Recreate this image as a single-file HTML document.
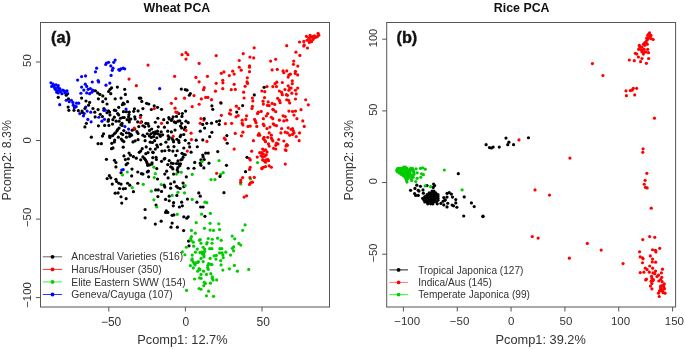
<!DOCTYPE html>
<html><head><meta charset="utf-8"><style>
html,body{margin:0;padding:0;background:#fff;width:685px;height:349px;overflow:hidden}
svg{display:block;will-change:transform;font-family:"Liberation Sans",sans-serif}
</style></head><body>
<svg width="685" height="349" viewBox="0 0 685 349">
<rect x="40.5" y="22.5" width="289.0" height="284.5" fill="none" stroke="#555" stroke-width="1"/>
<rect x="386.7" y="22.5" width="288.9" height="284.5" fill="none" stroke="#555" stroke-width="1"/>
<line x1="108.8" y1="307" x2="108.8" y2="311.5" stroke="#555" stroke-width="1"/>
<text x="111.1" y="325.6" font-size="12" text-anchor="middle" font-weight="normal" fill="#333">−50</text>
<line x1="185.4" y1="307" x2="185.4" y2="311.5" stroke="#555" stroke-width="1"/>
<text x="185.9" y="325.6" font-size="12" text-anchor="middle" font-weight="normal" fill="#333">0</text>
<line x1="262.0" y1="307" x2="262.0" y2="311.5" stroke="#555" stroke-width="1"/>
<text x="263.3" y="325.6" font-size="12" text-anchor="middle" font-weight="normal" fill="#333">50</text>
<line x1="36.0" y1="62.0" x2="40.5" y2="62.0" stroke="#555" stroke-width="1"/>
<text x="30.9" y="60.6" font-size="11.4" text-anchor="middle" font-weight="normal" fill="#333" transform="rotate(-90 30.9 60.6)">50</text>
<line x1="36.0" y1="140.5" x2="40.5" y2="140.5" stroke="#555" stroke-width="1"/>
<text x="30.9" y="140.4" font-size="11.4" text-anchor="middle" font-weight="normal" fill="#333" transform="rotate(-90 30.9 140.4)">0</text>
<line x1="36.0" y1="219.1" x2="40.5" y2="219.1" stroke="#555" stroke-width="1"/>
<text x="30.9" y="217.4" font-size="11.4" text-anchor="middle" font-weight="normal" fill="#333" transform="rotate(-90 30.9 217.4)">−50</text>
<line x1="36.0" y1="297.6" x2="40.5" y2="297.6" stroke="#555" stroke-width="1"/>
<text x="30.9" y="295.0" font-size="11.4" text-anchor="middle" font-weight="normal" fill="#333" transform="rotate(-90 30.9 295.0)">−100</text>
<line x1="403.4" y1="307" x2="403.4" y2="311.5" stroke="#555" stroke-width="1"/>
<text x="407.2" y="325.4" font-size="11.5" text-anchor="middle" font-weight="normal" fill="#333">−100</text>
<line x1="457.24" y1="307" x2="457.24" y2="311.5" stroke="#555" stroke-width="1"/>
<text x="459.54" y="325.4" font-size="11.5" text-anchor="middle" font-weight="normal" fill="#333">−50</text>
<line x1="511.08" y1="307" x2="511.08" y2="311.5" stroke="#555" stroke-width="1"/>
<text x="511.08" y="325.4" font-size="11.5" text-anchor="middle" font-weight="normal" fill="#333">0</text>
<line x1="564.92" y1="307" x2="564.92" y2="311.5" stroke="#555" stroke-width="1"/>
<text x="565.92" y="325.4" font-size="11.5" text-anchor="middle" font-weight="normal" fill="#333">50</text>
<line x1="618.76" y1="307" x2="618.76" y2="311.5" stroke="#555" stroke-width="1"/>
<text x="620.56" y="325.4" font-size="11.5" text-anchor="middle" font-weight="normal" fill="#333">100</text>
<line x1="672.6" y1="307" x2="672.6" y2="311.5" stroke="#555" stroke-width="1"/>
<text x="674.4" y="325.4" font-size="11.5" text-anchor="middle" font-weight="normal" fill="#333">150</text>
<line x1="382.2" y1="39.2" x2="386.7" y2="39.2" stroke="#555" stroke-width="1"/>
<text x="376.9" y="38.0" font-size="11.0" text-anchor="middle" font-weight="normal" fill="#333" transform="rotate(-90 376.9 38.0)">100</text>
<line x1="382.2" y1="110.9" x2="386.7" y2="110.9" stroke="#555" stroke-width="1"/>
<text x="376.9" y="109.7" font-size="11.0" text-anchor="middle" font-weight="normal" fill="#333" transform="rotate(-90 376.9 109.7)">50</text>
<line x1="382.2" y1="182.5" x2="386.7" y2="182.5" stroke="#555" stroke-width="1"/>
<text x="376.9" y="181.3" font-size="11.0" text-anchor="middle" font-weight="normal" fill="#333" transform="rotate(-90 376.9 181.3)">0</text>
<line x1="382.2" y1="254.2" x2="386.7" y2="254.2" stroke="#555" stroke-width="1"/>
<text x="376.9" y="253.0" font-size="11.0" text-anchor="middle" font-weight="normal" fill="#333" transform="rotate(-90 376.9 253.0)">−50</text>
<text x="176.9" y="12.3" font-size="12.4" text-anchor="middle" font-weight="bold" fill="#111">Wheat PCA</text>
<text x="521.7" y="12.3" font-size="12.4" text-anchor="middle" font-weight="bold" fill="#111">Rice PCA</text>
<text x="51.0" y="42.6" font-size="16.3" text-anchor="start" font-weight="bold" fill="#111" stroke="#111" stroke-width="0.4">(a)</text>
<text x="396.5" y="42.6" font-size="16.3" text-anchor="start" font-weight="bold" fill="#111" stroke="#111" stroke-width="0.4">(b)</text>
<text x="182.4" y="344.3" font-size="12.8" text-anchor="middle" font-weight="normal" fill="#333">Pcomp1: 12.7%</text>
<text x="540.7" y="344.3" font-size="12.8" text-anchor="middle" font-weight="normal" fill="#333">Pcomp1: 39.2%</text>
<text x="11.3" y="160.3" font-size="12.4" text-anchor="middle" font-weight="normal" fill="#333" transform="rotate(-90 11.3 160.3)">Pcomp2: 8.3%</text>
<text x="353.5" y="160.3" font-size="12.4" text-anchor="middle" font-weight="normal" fill="#333" transform="rotate(-90 353.5 160.3)">Pcomp2: 8.3%</text>
<circle cx="106.42" cy="63.03" r="1.6" fill="#00f"/>
<circle cx="108.61" cy="62.3" r="1.6" fill="#00f"/>
<circle cx="105.69" cy="64.49" r="1.6" fill="#00f"/>
<circle cx="115.18" cy="60.11" r="1.6" fill="#00f"/>
<circle cx="113.72" cy="62.3" r="1.6" fill="#00f"/>
<circle cx="110.8" cy="65.95" r="1.6" fill="#00f"/>
<circle cx="112.99" cy="68.14" r="1.6" fill="#00f"/>
<circle cx="112.26" cy="70.33" r="1.6" fill="#00f"/>
<circle cx="118.83" cy="69.6" r="1.6" fill="#00f"/>
<circle cx="121.02" cy="68.87" r="1.6" fill="#00f"/>
<circle cx="123.21" cy="68.14" r="1.6" fill="#00f"/>
<circle cx="124.67" cy="68.87" r="1.6" fill="#00f"/>
<circle cx="119.56" cy="70.33" r="1.6" fill="#00f"/>
<circle cx="96.64" cy="68.14" r="1.6" fill="#00f"/>
<circle cx="95.47" cy="71.79" r="1.6" fill="#00f"/>
<circle cx="111.09" cy="75.44" r="1.6" fill="#00f"/>
<circle cx="81.61" cy="76.61" r="1.6" fill="#00f"/>
<circle cx="85.55" cy="75.88" r="1.6" fill="#00f"/>
<circle cx="77.66" cy="80.11" r="1.6" fill="#00f"/>
<circle cx="98.1" cy="80.55" r="1.6" fill="#00f"/>
<circle cx="98.69" cy="82.01" r="1.6" fill="#00f"/>
<circle cx="92.26" cy="82.01" r="1.6" fill="#00f"/>
<circle cx="109.78" cy="83.03" r="1.6" fill="#00f"/>
<circle cx="105.99" cy="85.22" r="1.6" fill="#00f"/>
<circle cx="50.95" cy="82.74" r="1.6" fill="#00f"/>
<circle cx="51.68" cy="86.39" r="1.6" fill="#00f"/>
<circle cx="53.87" cy="85.66" r="1.6" fill="#00f"/>
<circle cx="56.06" cy="84.93" r="1.6" fill="#00f"/>
<circle cx="58.25" cy="85.66" r="1.6" fill="#00f"/>
<circle cx="57.52" cy="87.85" r="1.6" fill="#00f"/>
<circle cx="55.33" cy="89.31" r="1.6" fill="#00f"/>
<circle cx="58.98" cy="90.04" r="1.6" fill="#00f"/>
<circle cx="60.44" cy="91.5" r="1.6" fill="#00f"/>
<circle cx="56.79" cy="92.23" r="1.6" fill="#00f"/>
<circle cx="64.09" cy="90.77" r="1.6" fill="#00f"/>
<circle cx="67.01" cy="90.77" r="1.6" fill="#00f"/>
<circle cx="67.74" cy="93.69" r="1.6" fill="#00f"/>
<circle cx="64.82" cy="92.96" r="1.6" fill="#00f"/>
<circle cx="61.9" cy="93.69" r="1.6" fill="#00f"/>
<circle cx="85.26" cy="84.2" r="1.6" fill="#00f"/>
<circle cx="86.72" cy="86.39" r="1.6" fill="#00f"/>
<circle cx="81.61" cy="87.12" r="1.6" fill="#00f"/>
<circle cx="83.8" cy="90.04" r="1.6" fill="#00f"/>
<circle cx="88.18" cy="89.31" r="1.6" fill="#00f"/>
<circle cx="90.36" cy="88.58" r="1.6" fill="#00f"/>
<circle cx="92.55" cy="90.04" r="1.6" fill="#00f"/>
<circle cx="94.01" cy="90.77" r="1.6" fill="#00f"/>
<circle cx="86.72" cy="92.96" r="1.6" fill="#00f"/>
<circle cx="89.64" cy="93.69" r="1.6" fill="#00f"/>
<circle cx="91.82" cy="92.23" r="1.6" fill="#00f"/>
<circle cx="80.88" cy="93.25" r="1.6" fill="#00f"/>
<circle cx="66.28" cy="100.26" r="1.6" fill="#00f"/>
<circle cx="69.2" cy="101.72" r="1.6" fill="#00f"/>
<circle cx="72.85" cy="102.45" r="1.6" fill="#00f"/>
<circle cx="76.5" cy="103.18" r="1.6" fill="#00f"/>
<circle cx="78.69" cy="103.18" r="1.6" fill="#00f"/>
<circle cx="71.39" cy="100.26" r="1.6" fill="#00f"/>
<circle cx="59.71" cy="104.64" r="1.6" fill="#00f"/>
<circle cx="58.25" cy="97.34" r="1.6" fill="#000"/>
<circle cx="66.28" cy="95.15" r="1.6" fill="#000"/>
<circle cx="68.47" cy="98.8" r="1.6" fill="#000"/>
<circle cx="81.61" cy="98.07" r="1.6" fill="#000"/>
<circle cx="85.99" cy="100.99" r="1.6" fill="#000"/>
<circle cx="89.64" cy="102.45" r="1.6" fill="#000"/>
<circle cx="95.47" cy="90.77" r="1.6" fill="#000"/>
<circle cx="97.66" cy="92.96" r="1.6" fill="#000"/>
<circle cx="99.85" cy="94.42" r="1.6" fill="#000"/>
<circle cx="102.77" cy="95.88" r="1.6" fill="#000"/>
<circle cx="105.69" cy="98.8" r="1.6" fill="#000"/>
<circle cx="110.07" cy="89.31" r="1.6" fill="#000"/>
<circle cx="108.61" cy="91.5" r="1.6" fill="#000"/>
<circle cx="110.8" cy="93.69" r="1.6" fill="#000"/>
<circle cx="111.53" cy="87.85" r="1.6" fill="#000"/>
<circle cx="117.37" cy="87.12" r="1.6" fill="#000"/>
<circle cx="124.67" cy="89.31" r="1.6" fill="#000"/>
<circle cx="125.4" cy="94.42" r="1.6" fill="#000"/>
<circle cx="121.02" cy="98.07" r="1.6" fill="#000"/>
<circle cx="115.18" cy="98.8" r="1.6" fill="#000"/>
<circle cx="98.39" cy="98.8" r="1.6" fill="#000"/>
<circle cx="102.77" cy="101.72" r="1.6" fill="#000"/>
<circle cx="123.21" cy="103.18" r="1.6" fill="#000"/>
<circle cx="127.59" cy="101.72" r="1.6" fill="#000"/>
<circle cx="139.27" cy="98.07" r="1.6" fill="#000"/>
<circle cx="129.05" cy="79.09" r="1.6" fill="#f00"/>
<circle cx="136.35" cy="85.66" r="1.6" fill="#f00"/>
<circle cx="182.04" cy="54.67" r="1.6" fill="#f00"/>
<circle cx="185.99" cy="52.63" r="1.6" fill="#f00"/>
<circle cx="187.88" cy="54.67" r="1.6" fill="#f00"/>
<circle cx="185.99" cy="59.05" r="1.6" fill="#f00"/>
<circle cx="216.2" cy="55.55" r="1.6" fill="#f00"/>
<circle cx="239.27" cy="60.51" r="1.6" fill="#f00"/>
<circle cx="148.03" cy="65.04" r="1.6" fill="#f00"/>
<circle cx="199.12" cy="63.43" r="1.6" fill="#f00"/>
<circle cx="239.27" cy="67.23" r="1.6" fill="#f00"/>
<circle cx="174.6" cy="76.28" r="1.6" fill="#f00"/>
<circle cx="195.91" cy="77.45" r="1.6" fill="#f00"/>
<circle cx="199.12" cy="81.82" r="1.6" fill="#f00"/>
<circle cx="207.45" cy="76.28" r="1.6" fill="#f00"/>
<circle cx="221.31" cy="73.36" r="1.6" fill="#f00"/>
<circle cx="223.94" cy="71.9" r="1.6" fill="#f00"/>
<circle cx="229.34" cy="75.55" r="1.6" fill="#f00"/>
<circle cx="232.7" cy="71.17" r="1.6" fill="#f00"/>
<circle cx="234.16" cy="74.09" r="1.6" fill="#f00"/>
<circle cx="216.2" cy="83.28" r="1.6" fill="#f00"/>
<circle cx="222.77" cy="80.36" r="1.6" fill="#f00"/>
<circle cx="222.92" cy="82.85" r="1.6" fill="#f00"/>
<circle cx="234.16" cy="84.31" r="1.6" fill="#f00"/>
<circle cx="204.23" cy="87.66" r="1.6" fill="#f00"/>
<circle cx="203.5" cy="89.71" r="1.6" fill="#f00"/>
<circle cx="215.47" cy="91.17" r="1.6" fill="#f00"/>
<circle cx="222.77" cy="88.69" r="1.6" fill="#f00"/>
<circle cx="231.24" cy="89.71" r="1.6" fill="#f00"/>
<circle cx="235.33" cy="89.42" r="1.6" fill="#f00"/>
<circle cx="194.01" cy="95.55" r="1.6" fill="#f00"/>
<circle cx="175.77" cy="98.61" r="1.6" fill="#f00"/>
<circle cx="184.53" cy="98.18" r="1.6" fill="#f00"/>
<circle cx="201.31" cy="98.91" r="1.6" fill="#f00"/>
<circle cx="205.69" cy="97.45" r="1.6" fill="#f00"/>
<circle cx="207.88" cy="97.45" r="1.6" fill="#f00"/>
<circle cx="211.53" cy="99.64" r="1.6" fill="#f00"/>
<circle cx="159.71" cy="88.69" r="1.6" fill="#00f"/>
<circle cx="181.31" cy="89.12" r="1.6" fill="#000"/>
<circle cx="185.26" cy="89.71" r="1.6" fill="#000"/>
<circle cx="187.01" cy="90.15" r="1.6" fill="#000"/>
<circle cx="190.36" cy="93.5" r="1.6" fill="#000"/>
<circle cx="189.34" cy="95.26" r="1.6" fill="#000"/>
<circle cx="140.73" cy="98.18" r="1.6" fill="#000"/>
<circle cx="306.42" cy="36.31" r="1.6" fill="#f00"/>
<circle cx="310.07" cy="35.43" r="1.6" fill="#f00"/>
<circle cx="312.26" cy="36.6" r="1.6" fill="#f00"/>
<circle cx="314.45" cy="35.87" r="1.6" fill="#f00"/>
<circle cx="318.1" cy="33.39" r="1.6" fill="#f00"/>
<circle cx="318.83" cy="35.14" r="1.6" fill="#f00"/>
<circle cx="315.91" cy="37.33" r="1.6" fill="#f00"/>
<circle cx="313.72" cy="38.06" r="1.6" fill="#f00"/>
<circle cx="308.61" cy="38.06" r="1.6" fill="#f00"/>
<circle cx="307.15" cy="40.25" r="1.6" fill="#f00"/>
<circle cx="310.07" cy="40.25" r="1.6" fill="#f00"/>
<circle cx="311.53" cy="41.71" r="1.6" fill="#f00"/>
<circle cx="309.34" cy="42.44" r="1.6" fill="#f00"/>
<circle cx="312.99" cy="39.52" r="1.6" fill="#f00"/>
<circle cx="310.8" cy="37.33" r="1.6" fill="#f00"/>
<circle cx="317.37" cy="36.6" r="1.6" fill="#f00"/>
<circle cx="299.56" cy="42.0" r="1.6" fill="#f00"/>
<circle cx="303.8" cy="41.42" r="1.6" fill="#f00"/>
<circle cx="304.23" cy="44.92" r="1.6" fill="#f00"/>
<circle cx="303.8" cy="46.09" r="1.6" fill="#f00"/>
<circle cx="307.45" cy="47.99" r="1.6" fill="#f00"/>
<circle cx="286.72" cy="45.65" r="1.6" fill="#f00"/>
<circle cx="254.16" cy="47.84" r="1.6" fill="#f00"/>
<circle cx="243.21" cy="53.68" r="1.6" fill="#f00"/>
<circle cx="249.93" cy="57.04" r="1.6" fill="#f00"/>
<circle cx="253.72" cy="57.91" r="1.6" fill="#f00"/>
<circle cx="295.91" cy="52.22" r="1.6" fill="#f00"/>
<circle cx="299.85" cy="55.43" r="1.6" fill="#f00"/>
<circle cx="270.66" cy="61.12" r="1.6" fill="#f00"/>
<circle cx="275.62" cy="59.23" r="1.6" fill="#f00"/>
<circle cx="293.72" cy="61.12" r="1.6" fill="#f00"/>
<circle cx="293.43" cy="64.34" r="1.6" fill="#f00"/>
<circle cx="297.81" cy="66.09" r="1.6" fill="#f00"/>
<circle cx="241.17" cy="70.18" r="1.6" fill="#f00"/>
<circle cx="249.49" cy="65.8" r="1.6" fill="#f00"/>
<circle cx="249.49" cy="67.26" r="1.6" fill="#f00"/>
<circle cx="272.12" cy="69.88" r="1.6" fill="#f00"/>
<circle cx="277.23" cy="69.45" r="1.6" fill="#f00"/>
<circle cx="283.07" cy="70.91" r="1.6" fill="#f00"/>
<circle cx="286.72" cy="70.91" r="1.6" fill="#f00"/>
<circle cx="295.47" cy="71.34" r="1.6" fill="#f00"/>
<circle cx="249.49" cy="71.64" r="1.6" fill="#f00"/>
<circle cx="247.3" cy="77.84" r="1.6" fill="#f00"/>
<circle cx="247.01" cy="81.93" r="1.6" fill="#f00"/>
<circle cx="247.59" cy="83.39" r="1.6" fill="#f00"/>
<circle cx="245.11" cy="86.31" r="1.6" fill="#f00"/>
<circle cx="243.65" cy="92.15" r="1.6" fill="#f00"/>
<circle cx="244.09" cy="97.99" r="1.6" fill="#f00"/>
<circle cx="252.41" cy="97.99" r="1.6" fill="#f00"/>
<circle cx="252.85" cy="100.91" r="1.6" fill="#f00"/>
<circle cx="252.41" cy="106.31" r="1.6" fill="#f00"/>
<circle cx="251.97" cy="108.5" r="1.6" fill="#f00"/>
<circle cx="246.57" cy="115.8" r="1.6" fill="#f00"/>
<circle cx="245.84" cy="119.45" r="1.6" fill="#f00"/>
<circle cx="242.19" cy="120.18" r="1.6" fill="#f00"/>
<circle cx="254.6" cy="119.45" r="1.6" fill="#f00"/>
<circle cx="255.33" cy="120.91" r="1.6" fill="#f00"/>
<circle cx="267.01" cy="86.6" r="1.6" fill="#f00"/>
<circle cx="261.9" cy="90.98" r="1.6" fill="#f00"/>
<circle cx="264.82" cy="91.71" r="1.6" fill="#f00"/>
<circle cx="264.53" cy="97.55" r="1.6" fill="#f00"/>
<circle cx="263.07" cy="101.2" r="1.6" fill="#f00"/>
<circle cx="263.36" cy="104.12" r="1.6" fill="#f00"/>
<circle cx="268.18" cy="101.93" r="1.6" fill="#f00"/>
<circle cx="267.45" cy="105.28" r="1.6" fill="#f00"/>
<circle cx="269.2" cy="105.58" r="1.6" fill="#f00"/>
<circle cx="272.12" cy="103.39" r="1.6" fill="#f00"/>
<circle cx="274.74" cy="104.41" r="1.6" fill="#f00"/>
<circle cx="258.25" cy="112.15" r="1.6" fill="#f00"/>
<circle cx="261.17" cy="111.42" r="1.6" fill="#f00"/>
<circle cx="257.52" cy="113.61" r="1.6" fill="#f00"/>
<circle cx="267.74" cy="113.61" r="1.6" fill="#f00"/>
<circle cx="266.28" cy="115.8" r="1.6" fill="#f00"/>
<circle cx="271.39" cy="117.26" r="1.6" fill="#f00"/>
<circle cx="272.85" cy="118.72" r="1.6" fill="#f00"/>
<circle cx="263.36" cy="118.72" r="1.6" fill="#f00"/>
<circle cx="273.58" cy="109.96" r="1.6" fill="#f00"/>
<circle cx="275.77" cy="111.71" r="1.6" fill="#f00"/>
<circle cx="272.85" cy="109.23" r="1.6" fill="#f00"/>
<circle cx="272.85" cy="86.6" r="1.6" fill="#f00"/>
<circle cx="275.04" cy="83.68" r="1.6" fill="#f00"/>
<circle cx="276.79" cy="82.22" r="1.6" fill="#f00"/>
<circle cx="276.5" cy="86.6" r="1.6" fill="#f00"/>
<circle cx="282.34" cy="82.51" r="1.6" fill="#f00"/>
<circle cx="279.42" cy="90.98" r="1.6" fill="#f00"/>
<circle cx="281.61" cy="92.44" r="1.6" fill="#f00"/>
<circle cx="282.34" cy="94.63" r="1.6" fill="#f00"/>
<circle cx="284.96" cy="89.52" r="1.6" fill="#f00"/>
<circle cx="288.18" cy="85.87" r="1.6" fill="#f00"/>
<circle cx="289.64" cy="88.06" r="1.6" fill="#f00"/>
<circle cx="288.91" cy="90.25" r="1.6" fill="#f00"/>
<circle cx="291.09" cy="88.06" r="1.6" fill="#f00"/>
<circle cx="286.42" cy="94.63" r="1.6" fill="#f00"/>
<circle cx="287.45" cy="95.36" r="1.6" fill="#f00"/>
<circle cx="291.82" cy="93.17" r="1.6" fill="#f00"/>
<circle cx="295.47" cy="90.25" r="1.6" fill="#f00"/>
<circle cx="297.66" cy="88.06" r="1.6" fill="#f00"/>
<circle cx="296.2" cy="93.9" r="1.6" fill="#f00"/>
<circle cx="295.47" cy="99.01" r="1.6" fill="#f00"/>
<circle cx="277.66" cy="98.28" r="1.6" fill="#f00"/>
<circle cx="279.42" cy="100.47" r="1.6" fill="#f00"/>
<circle cx="280.15" cy="102.66" r="1.6" fill="#f00"/>
<circle cx="286.72" cy="99.74" r="1.6" fill="#f00"/>
<circle cx="288.61" cy="100.47" r="1.6" fill="#f00"/>
<circle cx="289.64" cy="102.95" r="1.6" fill="#f00"/>
<circle cx="288.18" cy="77.11" r="1.6" fill="#f00"/>
<circle cx="288.91" cy="74.92" r="1.6" fill="#f00"/>
<circle cx="290.36" cy="74.19" r="1.6" fill="#f00"/>
<circle cx="292.26" cy="80.76" r="1.6" fill="#f00"/>
<circle cx="292.26" cy="83.68" r="1.6" fill="#f00"/>
<circle cx="297.66" cy="74.92" r="1.6" fill="#f00"/>
<circle cx="295.18" cy="73.46" r="1.6" fill="#f00"/>
<circle cx="283.8" cy="72.73" r="1.6" fill="#f00"/>
<circle cx="305.69" cy="99.74" r="1.6" fill="#f00"/>
<circle cx="308.32" cy="104.85" r="1.6" fill="#f00"/>
<circle cx="301.02" cy="109.66" r="1.6" fill="#f00"/>
<circle cx="288.91" cy="111.12" r="1.6" fill="#f00"/>
<circle cx="292.55" cy="111.42" r="1.6" fill="#f00"/>
<circle cx="295.47" cy="111.12" r="1.6" fill="#f00"/>
<circle cx="294.01" cy="115.07" r="1.6" fill="#f00"/>
<circle cx="283.07" cy="115.8" r="1.6" fill="#f00"/>
<circle cx="285.26" cy="116.53" r="1.6" fill="#f00"/>
<circle cx="286.72" cy="120.18" r="1.6" fill="#f00"/>
<circle cx="283.8" cy="120.91" r="1.6" fill="#f00"/>
<circle cx="279.42" cy="120.18" r="1.6" fill="#f00"/>
<circle cx="296.93" cy="118.72" r="1.6" fill="#f00"/>
<circle cx="302.77" cy="120.91" r="1.6" fill="#f00"/>
<circle cx="264.09" cy="87.33" r="1.6" fill="#000"/>
<circle cx="254.31" cy="94.92" r="1.6" fill="#000"/>
<circle cx="242.63" cy="105.58" r="1.6" fill="#000"/>
<circle cx="242.19" cy="123.46" r="1.6" fill="#f00"/>
<circle cx="242.92" cy="124.92" r="1.6" fill="#f00"/>
<circle cx="248.03" cy="126.38" r="1.6" fill="#f00"/>
<circle cx="250.22" cy="126.09" r="1.6" fill="#f00"/>
<circle cx="256.06" cy="122.73" r="1.6" fill="#f00"/>
<circle cx="256.79" cy="126.38" r="1.6" fill="#f00"/>
<circle cx="263.36" cy="124.19" r="1.6" fill="#f00"/>
<circle cx="264.09" cy="125.65" r="1.6" fill="#f00"/>
<circle cx="267.01" cy="128.57" r="1.6" fill="#f00"/>
<circle cx="269.93" cy="127.11" r="1.6" fill="#f00"/>
<circle cx="273.28" cy="123.75" r="1.6" fill="#f00"/>
<circle cx="274.31" cy="124.92" r="1.6" fill="#f00"/>
<circle cx="276.5" cy="125.65" r="1.6" fill="#f00"/>
<circle cx="281.61" cy="128.57" r="1.6" fill="#f00"/>
<circle cx="288.18" cy="127.84" r="1.6" fill="#f00"/>
<circle cx="291.09" cy="129.3" r="1.6" fill="#f00"/>
<circle cx="292.55" cy="128.57" r="1.6" fill="#f00"/>
<circle cx="293.28" cy="130.76" r="1.6" fill="#f00"/>
<circle cx="304.23" cy="126.38" r="1.6" fill="#f00"/>
<circle cx="242.92" cy="132.22" r="1.6" fill="#f00"/>
<circle cx="241.46" cy="135.87" r="1.6" fill="#f00"/>
<circle cx="258.98" cy="133.68" r="1.6" fill="#f00"/>
<circle cx="259.71" cy="135.14" r="1.6" fill="#f00"/>
<circle cx="258.25" cy="135.14" r="1.6" fill="#f00"/>
<circle cx="269.2" cy="132.95" r="1.6" fill="#f00"/>
<circle cx="271.39" cy="135.14" r="1.6" fill="#f00"/>
<circle cx="280.88" cy="132.95" r="1.6" fill="#f00"/>
<circle cx="285.26" cy="132.22" r="1.6" fill="#f00"/>
<circle cx="287.45" cy="132.95" r="1.6" fill="#f00"/>
<circle cx="289.64" cy="135.14" r="1.6" fill="#f00"/>
<circle cx="292.55" cy="134.41" r="1.6" fill="#f00"/>
<circle cx="294.01" cy="132.95" r="1.6" fill="#f00"/>
<circle cx="296.2" cy="136.6" r="1.6" fill="#f00"/>
<circle cx="299.56" cy="132.95" r="1.6" fill="#f00"/>
<circle cx="253.43" cy="140.69" r="1.6" fill="#f00"/>
<circle cx="263.36" cy="138.79" r="1.6" fill="#f00"/>
<circle cx="264.09" cy="137.33" r="1.6" fill="#f00"/>
<circle cx="264.82" cy="140.25" r="1.6" fill="#f00"/>
<circle cx="267.74" cy="137.33" r="1.6" fill="#f00"/>
<circle cx="265.55" cy="141.71" r="1.6" fill="#f00"/>
<circle cx="271.39" cy="138.06" r="1.6" fill="#f00"/>
<circle cx="272.12" cy="139.52" r="1.6" fill="#f00"/>
<circle cx="272.85" cy="140.98" r="1.6" fill="#f00"/>
<circle cx="278.69" cy="139.52" r="1.6" fill="#f00"/>
<circle cx="276.5" cy="143.17" r="1.6" fill="#f00"/>
<circle cx="277.96" cy="143.9" r="1.6" fill="#f00"/>
<circle cx="275.77" cy="145.36" r="1.6" fill="#f00"/>
<circle cx="283.8" cy="140.98" r="1.6" fill="#f00"/>
<circle cx="286.72" cy="144.63" r="1.6" fill="#f00"/>
<circle cx="285.99" cy="146.09" r="1.6" fill="#f00"/>
<circle cx="287.45" cy="145.36" r="1.6" fill="#f00"/>
<circle cx="299.12" cy="140.69" r="1.6" fill="#f00"/>
<circle cx="268.47" cy="143.9" r="1.6" fill="#f00"/>
<circle cx="269.2" cy="146.09" r="1.6" fill="#f00"/>
<circle cx="273.58" cy="148.28" r="1.6" fill="#f00"/>
<circle cx="275.77" cy="149.01" r="1.6" fill="#f00"/>
<circle cx="285.26" cy="149.74" r="1.6" fill="#f00"/>
<circle cx="285.99" cy="150.47" r="1.6" fill="#f00"/>
<circle cx="251.68" cy="151.2" r="1.6" fill="#f00"/>
<circle cx="259.71" cy="152.66" r="1.6" fill="#f00"/>
<circle cx="262.63" cy="149.01" r="1.6" fill="#f00"/>
<circle cx="264.09" cy="150.47" r="1.6" fill="#f00"/>
<circle cx="265.55" cy="149.74" r="1.6" fill="#f00"/>
<circle cx="267.01" cy="151.93" r="1.6" fill="#f00"/>
<circle cx="261.9" cy="152.66" r="1.6" fill="#f00"/>
<circle cx="263.36" cy="154.12" r="1.6" fill="#f00"/>
<circle cx="261.17" cy="155.58" r="1.6" fill="#f00"/>
<circle cx="262.63" cy="157.04" r="1.6" fill="#f00"/>
<circle cx="264.82" cy="156.31" r="1.6" fill="#f00"/>
<circle cx="266.28" cy="154.85" r="1.6" fill="#f00"/>
<circle cx="257.23" cy="157.04" r="1.6" fill="#f00"/>
<circle cx="262.63" cy="159.96" r="1.6" fill="#f00"/>
<circle cx="264.09" cy="160.69" r="1.6" fill="#f00"/>
<circle cx="266.28" cy="159.96" r="1.6" fill="#f00"/>
<circle cx="267.74" cy="159.23" r="1.6" fill="#f00"/>
<circle cx="268.47" cy="160.69" r="1.6" fill="#f00"/>
<circle cx="265.55" cy="162.15" r="1.6" fill="#f00"/>
<circle cx="249.49" cy="158.5" r="1.6" fill="#f00"/>
<circle cx="250.22" cy="159.96" r="1.6" fill="#f00"/>
<circle cx="285.26" cy="164.04" r="1.6" fill="#f00"/>
<circle cx="250.22" cy="167.26" r="1.6" fill="#f00"/>
<circle cx="249.49" cy="169.45" r="1.6" fill="#f00"/>
<circle cx="261.9" cy="167.99" r="1.6" fill="#f00"/>
<circle cx="263.36" cy="167.26" r="1.6" fill="#f00"/>
<circle cx="265.55" cy="166.53" r="1.6" fill="#f00"/>
<circle cx="269.2" cy="165.8" r="1.6" fill="#f00"/>
<circle cx="271.39" cy="167.26" r="1.6" fill="#f00"/>
<circle cx="261.9" cy="168.72" r="1.6" fill="#f00"/>
<circle cx="247.01" cy="157.33" r="1.6" fill="#000"/>
<circle cx="245.55" cy="171.64" r="1.6" fill="#000"/>
<circle cx="257.52" cy="162.58" r="1.6" fill="#0c0"/>
<circle cx="250.51" cy="179.01" r="1.6" fill="#0c0"/>
<circle cx="240.73" cy="183.97" r="1.6" fill="#0c0"/>
<circle cx="242.63" cy="177.55" r="1.6" fill="#f00"/>
<circle cx="240.73" cy="180.03" r="1.6" fill="#f00"/>
<circle cx="240.73" cy="182.22" r="1.6" fill="#f00"/>
<circle cx="249.93" cy="177.55" r="1.6" fill="#f00"/>
<circle cx="254.31" cy="177.4" r="1.6" fill="#f00"/>
<circle cx="250.51" cy="182.95" r="1.6" fill="#f00"/>
<circle cx="252.41" cy="182.22" r="1.6" fill="#f00"/>
<circle cx="249.49" cy="184.41" r="1.6" fill="#f00"/>
<circle cx="244.09" cy="197.11" r="1.6" fill="#f00"/>
<circle cx="246.57" cy="195.8" r="1.6" fill="#f00"/>
<circle cx="245.11" cy="224.92" r="1.6" fill="#0c0"/>
<circle cx="242.63" cy="230.32" r="1.6" fill="#0c0"/>
<circle cx="240.73" cy="245.07" r="1.6" fill="#0c0"/>
<circle cx="248.76" cy="269.45" r="1.6" fill="#0c0"/>
<circle cx="141.82" cy="101.46" r="1.6" fill="#000"/>
<circle cx="146.57" cy="103.28" r="1.6" fill="#000"/>
<circle cx="148.76" cy="104.01" r="1.6" fill="#000"/>
<circle cx="154.23" cy="105.84" r="1.6" fill="#000"/>
<circle cx="157.52" cy="107.3" r="1.6" fill="#000"/>
<circle cx="142.92" cy="108.61" r="1.6" fill="#000"/>
<circle cx="151.31" cy="109.49" r="1.6" fill="#000"/>
<circle cx="161.53" cy="109.34" r="1.6" fill="#000"/>
<circle cx="185.62" cy="111.09" r="1.6" fill="#000"/>
<circle cx="178.69" cy="113.5" r="1.6" fill="#000"/>
<circle cx="182.34" cy="113.5" r="1.6" fill="#000"/>
<circle cx="181.97" cy="116.42" r="1.6" fill="#000"/>
<circle cx="176.5" cy="116.42" r="1.6" fill="#000"/>
<circle cx="173.21" cy="116.79" r="1.6" fill="#000"/>
<circle cx="168.83" cy="117.52" r="1.6" fill="#000"/>
<circle cx="169.2" cy="118.98" r="1.6" fill="#000"/>
<circle cx="157.88" cy="118.25" r="1.6" fill="#000"/>
<circle cx="163.72" cy="119.71" r="1.6" fill="#000"/>
<circle cx="155.33" cy="122.26" r="1.6" fill="#000"/>
<circle cx="167.37" cy="122.63" r="1.6" fill="#000"/>
<circle cx="171.39" cy="120.44" r="1.6" fill="#000"/>
<circle cx="174.31" cy="121.9" r="1.6" fill="#000"/>
<circle cx="175.77" cy="122.63" r="1.6" fill="#000"/>
<circle cx="177.96" cy="121.17" r="1.6" fill="#000"/>
<circle cx="179.78" cy="120.8" r="1.6" fill="#000"/>
<circle cx="181.61" cy="123.36" r="1.6" fill="#000"/>
<circle cx="185.99" cy="121.17" r="1.6" fill="#000"/>
<circle cx="188.18" cy="122.63" r="1.6" fill="#000"/>
<circle cx="140.73" cy="115.33" r="1.6" fill="#000"/>
<circle cx="141.46" cy="121.9" r="1.6" fill="#000"/>
<circle cx="145.84" cy="123.36" r="1.6" fill="#000"/>
<circle cx="148.03" cy="123.72" r="1.6" fill="#000"/>
<circle cx="172.12" cy="118.98" r="1.6" fill="#000"/>
<circle cx="171.39" cy="103.28" r="1.6" fill="#f00"/>
<circle cx="175.04" cy="108.18" r="1.6" fill="#f00"/>
<circle cx="175.77" cy="112.04" r="1.6" fill="#f00"/>
<circle cx="177.23" cy="112.41" r="1.6" fill="#f00"/>
<circle cx="154.23" cy="108.61" r="1.6" fill="#f00"/>
<circle cx="140.36" cy="117.52" r="1.6" fill="#f00"/>
<circle cx="161.53" cy="123.36" r="1.6" fill="#f00"/>
<circle cx="140.58" cy="122.63" r="1.6" fill="#f00"/>
<circle cx="199.12" cy="104.23" r="1.6" fill="#f00"/>
<circle cx="192.19" cy="106.72" r="1.6" fill="#f00"/>
<circle cx="220.66" cy="102.55" r="1.6" fill="#f00"/>
<circle cx="236.35" cy="106.2" r="1.6" fill="#f00"/>
<circle cx="238.91" cy="108.39" r="1.6" fill="#f00"/>
<circle cx="230.51" cy="110.22" r="1.6" fill="#f00"/>
<circle cx="229.42" cy="113.5" r="1.6" fill="#f00"/>
<circle cx="230.51" cy="114.23" r="1.6" fill="#f00"/>
<circle cx="221.39" cy="115.33" r="1.6" fill="#f00"/>
<circle cx="235.99" cy="116.79" r="1.6" fill="#f00"/>
<circle cx="238.18" cy="115.69" r="1.6" fill="#f00"/>
<circle cx="200.95" cy="118.61" r="1.6" fill="#f00"/>
<circle cx="203.87" cy="120.07" r="1.6" fill="#f00"/>
<circle cx="200.22" cy="123.36" r="1.6" fill="#f00"/>
<circle cx="225.4" cy="123.72" r="1.6" fill="#f00"/>
<circle cx="231.61" cy="123.36" r="1.6" fill="#f00"/>
<circle cx="221.02" cy="103.07" r="1.6" fill="#000"/>
<circle cx="211.9" cy="105.84" r="1.6" fill="#000"/>
<circle cx="212.77" cy="109.34" r="1.6" fill="#000"/>
<circle cx="236.72" cy="112.04" r="1.6" fill="#000"/>
<circle cx="204.23" cy="118.61" r="1.6" fill="#000"/>
<circle cx="206.79" cy="123.36" r="1.6" fill="#000"/>
<circle cx="211.53" cy="123.21" r="1.6" fill="#000"/>
<circle cx="216.64" cy="121.53" r="1.6" fill="#000"/>
<circle cx="219.56" cy="120.8" r="1.6" fill="#000"/>
<circle cx="219.2" cy="124.45" r="1.6" fill="#000"/>
<circle cx="202.77" cy="124.45" r="1.6" fill="#000"/>
<circle cx="142.92" cy="125.73" r="1.6" fill="#000"/>
<circle cx="144.74" cy="126.82" r="1.6" fill="#000"/>
<circle cx="148.76" cy="126.09" r="1.6" fill="#000"/>
<circle cx="158.25" cy="126.82" r="1.6" fill="#000"/>
<circle cx="164.45" cy="127.19" r="1.6" fill="#000"/>
<circle cx="180.51" cy="126.09" r="1.6" fill="#000"/>
<circle cx="181.61" cy="127.92" r="1.6" fill="#000"/>
<circle cx="185.26" cy="127.19" r="1.6" fill="#000"/>
<circle cx="184.53" cy="129.38" r="1.6" fill="#000"/>
<circle cx="151.68" cy="129.01" r="1.6" fill="#000"/>
<circle cx="149.49" cy="130.47" r="1.6" fill="#000"/>
<circle cx="157.52" cy="131.2" r="1.6" fill="#000"/>
<circle cx="155.33" cy="131.93" r="1.6" fill="#000"/>
<circle cx="153.14" cy="132.66" r="1.6" fill="#000"/>
<circle cx="161.17" cy="131.93" r="1.6" fill="#000"/>
<circle cx="147.3" cy="133.76" r="1.6" fill="#000"/>
<circle cx="150.95" cy="133.76" r="1.6" fill="#000"/>
<circle cx="154.6" cy="134.12" r="1.6" fill="#000"/>
<circle cx="157.52" cy="133.76" r="1.6" fill="#000"/>
<circle cx="159.71" cy="134.85" r="1.6" fill="#000"/>
<circle cx="162.63" cy="134.85" r="1.6" fill="#000"/>
<circle cx="142.92" cy="135.22" r="1.6" fill="#000"/>
<circle cx="144.74" cy="136.31" r="1.6" fill="#000"/>
<circle cx="149.49" cy="135.95" r="1.6" fill="#000"/>
<circle cx="151.31" cy="137.41" r="1.6" fill="#000"/>
<circle cx="153.5" cy="136.68" r="1.6" fill="#000"/>
<circle cx="156.79" cy="137.77" r="1.6" fill="#000"/>
<circle cx="160.44" cy="136.31" r="1.6" fill="#000"/>
<circle cx="167.74" cy="131.2" r="1.6" fill="#000"/>
<circle cx="171.39" cy="131.93" r="1.6" fill="#000"/>
<circle cx="175.04" cy="130.11" r="1.6" fill="#000"/>
<circle cx="168.1" cy="135.95" r="1.6" fill="#000"/>
<circle cx="169.2" cy="137.41" r="1.6" fill="#000"/>
<circle cx="168.47" cy="139.23" r="1.6" fill="#000"/>
<circle cx="172.12" cy="138.5" r="1.6" fill="#000"/>
<circle cx="173.21" cy="140.33" r="1.6" fill="#000"/>
<circle cx="173.58" cy="141.79" r="1.6" fill="#000"/>
<circle cx="165.91" cy="142.15" r="1.6" fill="#000"/>
<circle cx="176.86" cy="139.23" r="1.6" fill="#000"/>
<circle cx="178.69" cy="140.69" r="1.6" fill="#000"/>
<circle cx="179.05" cy="142.52" r="1.6" fill="#000"/>
<circle cx="180.15" cy="136.68" r="1.6" fill="#000"/>
<circle cx="180.88" cy="135.22" r="1.6" fill="#000"/>
<circle cx="183.8" cy="134.49" r="1.6" fill="#000"/>
<circle cx="185.26" cy="140.33" r="1.6" fill="#000"/>
<circle cx="145.11" cy="140.69" r="1.6" fill="#000"/>
<circle cx="150.22" cy="142.15" r="1.6" fill="#000"/>
<circle cx="152.41" cy="142.52" r="1.6" fill="#000"/>
<circle cx="154.6" cy="140.69" r="1.6" fill="#000"/>
<circle cx="156.79" cy="145.07" r="1.6" fill="#000"/>
<circle cx="157.52" cy="146.9" r="1.6" fill="#000"/>
<circle cx="160.8" cy="144.34" r="1.6" fill="#000"/>
<circle cx="146.2" cy="146.9" r="1.6" fill="#000"/>
<circle cx="142.19" cy="148.72" r="1.6" fill="#000"/>
<circle cx="150.22" cy="149.09" r="1.6" fill="#000"/>
<circle cx="155.33" cy="149.09" r="1.6" fill="#000"/>
<circle cx="168.1" cy="146.9" r="1.6" fill="#000"/>
<circle cx="173.94" cy="146.53" r="1.6" fill="#000"/>
<circle cx="183.8" cy="147.99" r="1.6" fill="#000"/>
<circle cx="188.91" cy="143.25" r="1.6" fill="#000"/>
<circle cx="189.64" cy="146.9" r="1.6" fill="#000"/>
<circle cx="173.21" cy="136.31" r="1.6" fill="#f00"/>
<circle cx="185.99" cy="130.47" r="1.6" fill="#f00"/>
<circle cx="204.6" cy="128.07" r="1.6" fill="#000"/>
<circle cx="200.22" cy="131.2" r="1.6" fill="#000"/>
<circle cx="211.9" cy="132.3" r="1.6" fill="#000"/>
<circle cx="209.71" cy="136.68" r="1.6" fill="#000"/>
<circle cx="226.86" cy="135.58" r="1.6" fill="#000"/>
<circle cx="227.23" cy="143.25" r="1.6" fill="#000"/>
<circle cx="196.2" cy="140.18" r="1.6" fill="#000"/>
<circle cx="202.77" cy="139.96" r="1.6" fill="#000"/>
<circle cx="197.3" cy="146.75" r="1.6" fill="#000"/>
<circle cx="191.09" cy="133.18" r="1.6" fill="#f00"/>
<circle cx="191.46" cy="139.6" r="1.6" fill="#f00"/>
<circle cx="206.93" cy="141.42" r="1.6" fill="#f00"/>
<circle cx="224.31" cy="138.14" r="1.6" fill="#f00"/>
<circle cx="225.4" cy="139.6" r="1.6" fill="#f00"/>
<circle cx="235.26" cy="133.39" r="1.6" fill="#f00"/>
<circle cx="234.16" cy="149.09" r="1.6" fill="#f00"/>
<circle cx="152.77" cy="152.19" r="1.6" fill="#000"/>
<circle cx="161.9" cy="151.09" r="1.6" fill="#000"/>
<circle cx="164.82" cy="150.73" r="1.6" fill="#000"/>
<circle cx="169.2" cy="150.36" r="1.6" fill="#000"/>
<circle cx="172.85" cy="151.09" r="1.6" fill="#000"/>
<circle cx="177.23" cy="150.73" r="1.6" fill="#000"/>
<circle cx="140.73" cy="151.09" r="1.6" fill="#000"/>
<circle cx="145.84" cy="153.65" r="1.6" fill="#000"/>
<circle cx="148.03" cy="152.55" r="1.6" fill="#000"/>
<circle cx="153.14" cy="152.55" r="1.6" fill="#000"/>
<circle cx="142.92" cy="156.93" r="1.6" fill="#000"/>
<circle cx="140.73" cy="159.85" r="1.6" fill="#000"/>
<circle cx="144.38" cy="158.39" r="1.6" fill="#000"/>
<circle cx="145.47" cy="159.85" r="1.6" fill="#000"/>
<circle cx="146.57" cy="161.68" r="1.6" fill="#000"/>
<circle cx="147.3" cy="163.5" r="1.6" fill="#000"/>
<circle cx="147.66" cy="165.33" r="1.6" fill="#000"/>
<circle cx="149.49" cy="164.96" r="1.6" fill="#000"/>
<circle cx="151.68" cy="164.23" r="1.6" fill="#000"/>
<circle cx="152.04" cy="162.77" r="1.6" fill="#000"/>
<circle cx="152.77" cy="157.66" r="1.6" fill="#000"/>
<circle cx="156.06" cy="157.3" r="1.6" fill="#000"/>
<circle cx="156.42" cy="159.49" r="1.6" fill="#000"/>
<circle cx="161.53" cy="161.31" r="1.6" fill="#000"/>
<circle cx="164.09" cy="159.12" r="1.6" fill="#000"/>
<circle cx="164.82" cy="158.39" r="1.6" fill="#000"/>
<circle cx="169.2" cy="160.58" r="1.6" fill="#000"/>
<circle cx="167.74" cy="164.6" r="1.6" fill="#000"/>
<circle cx="171.39" cy="163.14" r="1.6" fill="#000"/>
<circle cx="173.21" cy="163.5" r="1.6" fill="#000"/>
<circle cx="172.12" cy="167.52" r="1.6" fill="#000"/>
<circle cx="172.85" cy="168.98" r="1.6" fill="#000"/>
<circle cx="170.66" cy="166.79" r="1.6" fill="#000"/>
<circle cx="175.77" cy="155.47" r="1.6" fill="#000"/>
<circle cx="181.97" cy="153.28" r="1.6" fill="#000"/>
<circle cx="183.8" cy="154.38" r="1.6" fill="#000"/>
<circle cx="185.26" cy="154.74" r="1.6" fill="#000"/>
<circle cx="183.07" cy="157.3" r="1.6" fill="#000"/>
<circle cx="181.97" cy="159.49" r="1.6" fill="#000"/>
<circle cx="180.88" cy="159.85" r="1.6" fill="#000"/>
<circle cx="177.96" cy="160.95" r="1.6" fill="#000"/>
<circle cx="176.5" cy="163.5" r="1.6" fill="#000"/>
<circle cx="178.69" cy="163.87" r="1.6" fill="#000"/>
<circle cx="180.51" cy="163.87" r="1.6" fill="#000"/>
<circle cx="179.78" cy="165.69" r="1.6" fill="#000"/>
<circle cx="177.96" cy="167.52" r="1.6" fill="#000"/>
<circle cx="177.23" cy="169.71" r="1.6" fill="#000"/>
<circle cx="177.96" cy="171.9" r="1.6" fill="#000"/>
<circle cx="156.79" cy="168.61" r="1.6" fill="#000"/>
<circle cx="148.39" cy="171.17" r="1.6" fill="#000"/>
<circle cx="147.3" cy="171.9" r="1.6" fill="#000"/>
<circle cx="166.64" cy="171.17" r="1.6" fill="#000"/>
<circle cx="164.82" cy="174.09" r="1.6" fill="#000"/>
<circle cx="173.58" cy="174.09" r="1.6" fill="#000"/>
<circle cx="188.18" cy="168.25" r="1.6" fill="#000"/>
<circle cx="141.46" cy="173.72" r="1.6" fill="#000"/>
<circle cx="142.92" cy="174.09" r="1.6" fill="#000"/>
<circle cx="153.87" cy="167.15" r="1.6" fill="#0c0"/>
<circle cx="155.33" cy="173.72" r="1.6" fill="#0c0"/>
<circle cx="181.24" cy="172.26" r="1.6" fill="#0c0"/>
<circle cx="176.5" cy="174.09" r="1.6" fill="#0c0"/>
<circle cx="187.3" cy="151.09" r="1.6" fill="#f00"/>
<circle cx="191.09" cy="152.19" r="1.6" fill="#000"/>
<circle cx="205.69" cy="153.07" r="1.6" fill="#000"/>
<circle cx="208.25" cy="153.07" r="1.6" fill="#000"/>
<circle cx="202.77" cy="155.11" r="1.6" fill="#000"/>
<circle cx="203.14" cy="156.93" r="1.6" fill="#000"/>
<circle cx="200.95" cy="159.85" r="1.6" fill="#000"/>
<circle cx="204.23" cy="159.49" r="1.6" fill="#000"/>
<circle cx="194.74" cy="162.41" r="1.6" fill="#000"/>
<circle cx="200.22" cy="163.14" r="1.6" fill="#000"/>
<circle cx="200.95" cy="165.33" r="1.6" fill="#000"/>
<circle cx="208.98" cy="163.14" r="1.6" fill="#000"/>
<circle cx="203.87" cy="167.88" r="1.6" fill="#000"/>
<circle cx="194.01" cy="168.25" r="1.6" fill="#000"/>
<circle cx="217.74" cy="151.61" r="1.6" fill="#000"/>
<circle cx="226.5" cy="165.33" r="1.6" fill="#000"/>
<circle cx="202.04" cy="161.68" r="1.6" fill="#0c0"/>
<circle cx="219.05" cy="160.58" r="1.6" fill="#0c0"/>
<circle cx="223.21" cy="172.63" r="1.6" fill="#0c0"/>
<circle cx="220.66" cy="174.45" r="1.6" fill="#0c0"/>
<circle cx="192.19" cy="174.45" r="1.6" fill="#0c0"/>
<circle cx="216.64" cy="173.36" r="1.6" fill="#f00"/>
<circle cx="148.61" cy="176.82" r="1.6" fill="#000"/>
<circle cx="157.52" cy="179.01" r="1.6" fill="#000"/>
<circle cx="168.1" cy="177.92" r="1.6" fill="#000"/>
<circle cx="186.35" cy="176.82" r="1.6" fill="#000"/>
<circle cx="174.31" cy="181.93" r="1.6" fill="#000"/>
<circle cx="170.66" cy="183.76" r="1.6" fill="#000"/>
<circle cx="164.09" cy="185.22" r="1.6" fill="#000"/>
<circle cx="164.82" cy="187.04" r="1.6" fill="#000"/>
<circle cx="170.66" cy="188.14" r="1.6" fill="#000"/>
<circle cx="176.5" cy="186.31" r="1.6" fill="#000"/>
<circle cx="177.96" cy="187.77" r="1.6" fill="#000"/>
<circle cx="180.15" cy="188.5" r="1.6" fill="#000"/>
<circle cx="183.07" cy="183.03" r="1.6" fill="#000"/>
<circle cx="183.8" cy="186.68" r="1.6" fill="#000"/>
<circle cx="155.69" cy="189.96" r="1.6" fill="#000"/>
<circle cx="158.25" cy="189.96" r="1.6" fill="#000"/>
<circle cx="161.53" cy="191.42" r="1.6" fill="#000"/>
<circle cx="157.88" cy="196.53" r="1.6" fill="#000"/>
<circle cx="169.2" cy="196.17" r="1.6" fill="#000"/>
<circle cx="176.86" cy="195.44" r="1.6" fill="#000"/>
<circle cx="165.55" cy="199.45" r="1.6" fill="#000"/>
<circle cx="187.45" cy="199.09" r="1.6" fill="#000"/>
<circle cx="154.23" cy="177.55" r="1.6" fill="#0c0"/>
<circle cx="143.28" cy="184.34" r="1.6" fill="#0c0"/>
<circle cx="161.17" cy="184.49" r="1.6" fill="#0c0"/>
<circle cx="151.31" cy="191.2" r="1.6" fill="#0c0"/>
<circle cx="185.26" cy="185.58" r="1.6" fill="#0c0"/>
<circle cx="177.96" cy="192.37" r="1.6" fill="#0c0"/>
<circle cx="184.53" cy="192.88" r="1.6" fill="#0c0"/>
<circle cx="172.12" cy="195.44" r="1.6" fill="#0c0"/>
<circle cx="153.87" cy="199.82" r="1.6" fill="#0c0"/>
<circle cx="219.93" cy="176.46" r="1.6" fill="#000"/>
<circle cx="198.76" cy="192.88" r="1.6" fill="#000"/>
<circle cx="200.22" cy="196.17" r="1.6" fill="#000"/>
<circle cx="223.94" cy="192.66" r="1.6" fill="#000"/>
<circle cx="211.02" cy="179.53" r="1.6" fill="#0c0"/>
<circle cx="214.96" cy="179.53" r="1.6" fill="#0c0"/>
<circle cx="192.19" cy="199.45" r="1.6" fill="#0c0"/>
<circle cx="169.2" cy="200.73" r="1.6" fill="#000"/>
<circle cx="173.58" cy="202.63" r="1.6" fill="#000"/>
<circle cx="196.93" cy="202.19" r="1.6" fill="#000"/>
<circle cx="156.06" cy="205.11" r="1.6" fill="#000"/>
<circle cx="173.28" cy="205.84" r="1.6" fill="#000"/>
<circle cx="179.42" cy="207.01" r="1.6" fill="#000"/>
<circle cx="182.34" cy="205.84" r="1.6" fill="#000"/>
<circle cx="181.61" cy="202.19" r="1.6" fill="#000"/>
<circle cx="145.11" cy="209.49" r="1.6" fill="#000"/>
<circle cx="145.11" cy="217.81" r="1.6" fill="#000"/>
<circle cx="166.28" cy="210.95" r="1.6" fill="#000"/>
<circle cx="165.55" cy="212.41" r="1.6" fill="#000"/>
<circle cx="167.74" cy="212.41" r="1.6" fill="#000"/>
<circle cx="172.12" cy="215.33" r="1.6" fill="#000"/>
<circle cx="173.87" cy="214.89" r="1.6" fill="#000"/>
<circle cx="183.8" cy="216.79" r="1.6" fill="#000"/>
<circle cx="186.72" cy="218.25" r="1.6" fill="#000"/>
<circle cx="188.18" cy="216.79" r="1.6" fill="#000"/>
<circle cx="200.58" cy="207.01" r="1.6" fill="#000"/>
<circle cx="203.07" cy="207.01" r="1.6" fill="#000"/>
<circle cx="204.96" cy="216.35" r="1.6" fill="#000"/>
<circle cx="161.17" cy="221.17" r="1.6" fill="#000"/>
<circle cx="155.33" cy="224.09" r="1.6" fill="#000"/>
<circle cx="172.12" cy="223.07" r="1.6" fill="#000"/>
<circle cx="204.96" cy="202.19" r="1.6" fill="#0c0"/>
<circle cx="206.86" cy="202.63" r="1.6" fill="#0c0"/>
<circle cx="156.79" cy="207.01" r="1.6" fill="#0c0"/>
<circle cx="177.23" cy="214.31" r="1.6" fill="#0c0"/>
<circle cx="201.61" cy="214.16" r="1.6" fill="#0c0"/>
<circle cx="210.36" cy="213.43" r="1.6" fill="#0c0"/>
<circle cx="196.2" cy="222.63" r="1.6" fill="#0c0"/>
<circle cx="210.07" cy="223.36" r="1.6" fill="#0c0"/>
<circle cx="218.83" cy="223.8" r="1.6" fill="#0c0"/>
<circle cx="171.02" cy="227.19" r="1.6" fill="#000"/>
<circle cx="177.37" cy="227.19" r="1.6" fill="#000"/>
<circle cx="183.65" cy="230.62" r="1.6" fill="#000"/>
<circle cx="188.54" cy="241.06" r="1.6" fill="#000"/>
<circle cx="189.05" cy="245.8" r="1.6" fill="#000"/>
<circle cx="186.35" cy="247.26" r="1.6" fill="#0c0"/>
<circle cx="191.46" cy="230.47" r="1.6" fill="#0c0"/>
<circle cx="195.26" cy="233.18" r="1.6" fill="#0c0"/>
<circle cx="204.45" cy="228.28" r="1.6" fill="#0c0"/>
<circle cx="210.07" cy="230.11" r="1.6" fill="#0c0"/>
<circle cx="213.5" cy="230.47" r="1.6" fill="#0c0"/>
<circle cx="219.56" cy="229.53" r="1.6" fill="#0c0"/>
<circle cx="191.46" cy="236.68" r="1.6" fill="#0c0"/>
<circle cx="190.73" cy="238.5" r="1.6" fill="#0c0"/>
<circle cx="191.09" cy="240.33" r="1.6" fill="#0c0"/>
<circle cx="193.28" cy="242.15" r="1.6" fill="#0c0"/>
<circle cx="193.65" cy="246.17" r="1.6" fill="#0c0"/>
<circle cx="200.22" cy="239.6" r="1.6" fill="#0c0"/>
<circle cx="199.49" cy="240.33" r="1.6" fill="#0c0"/>
<circle cx="200.95" cy="243.25" r="1.6" fill="#0c0"/>
<circle cx="208.25" cy="238.5" r="1.6" fill="#0c0"/>
<circle cx="207.15" cy="242.52" r="1.6" fill="#0c0"/>
<circle cx="206.64" cy="243.98" r="1.6" fill="#0c0"/>
<circle cx="212.26" cy="239.23" r="1.6" fill="#0c0"/>
<circle cx="212.04" cy="243.25" r="1.6" fill="#0c0"/>
<circle cx="217.59" cy="238.14" r="1.6" fill="#0c0"/>
<circle cx="221.24" cy="240.33" r="1.6" fill="#0c0"/>
<circle cx="232.19" cy="236.09" r="1.6" fill="#0c0"/>
<circle cx="234.67" cy="238.87" r="1.6" fill="#0c0"/>
<circle cx="238.91" cy="243.39" r="1.6" fill="#0c0"/>
<circle cx="233.65" cy="246.9" r="1.6" fill="#0c0"/>
<circle cx="232.34" cy="248.36" r="1.6" fill="#0c0"/>
<circle cx="197.3" cy="249.09" r="1.6" fill="#0c0"/>
<circle cx="203.14" cy="247.26" r="1.6" fill="#0c0"/>
<circle cx="204.6" cy="249.09" r="1.6" fill="#0c0"/>
<circle cx="209.71" cy="248.72" r="1.6" fill="#0c0"/>
<circle cx="211.9" cy="248.72" r="1.6" fill="#0c0"/>
<circle cx="219.93" cy="248.72" r="1.6" fill="#0c0"/>
<circle cx="221.75" cy="248.72" r="1.6" fill="#0c0"/>
<circle cx="182.36" cy="251.82" r="1.6" fill="#0c0"/>
<circle cx="184.92" cy="254.74" r="1.6" fill="#0c0"/>
<circle cx="195.5" cy="252.19" r="1.6" fill="#0c0"/>
<circle cx="199.88" cy="252.55" r="1.6" fill="#0c0"/>
<circle cx="201.71" cy="252.19" r="1.6" fill="#0c0"/>
<circle cx="203.9" cy="252.92" r="1.6" fill="#0c0"/>
<circle cx="204.63" cy="251.46" r="1.6" fill="#0c0"/>
<circle cx="202.44" cy="254.01" r="1.6" fill="#0c0"/>
<circle cx="203.9" cy="255.11" r="1.6" fill="#0c0"/>
<circle cx="203.9" cy="256.93" r="1.6" fill="#0c0"/>
<circle cx="192.22" cy="255.11" r="1.6" fill="#0c0"/>
<circle cx="192.22" cy="258.76" r="1.6" fill="#0c0"/>
<circle cx="191.85" cy="260.22" r="1.6" fill="#0c0"/>
<circle cx="193.31" cy="262.04" r="1.6" fill="#0c0"/>
<circle cx="194.41" cy="263.5" r="1.6" fill="#0c0"/>
<circle cx="195.87" cy="262.77" r="1.6" fill="#0c0"/>
<circle cx="197.69" cy="262.41" r="1.6" fill="#0c0"/>
<circle cx="198.42" cy="261.68" r="1.6" fill="#0c0"/>
<circle cx="190.39" cy="265.69" r="1.6" fill="#0c0"/>
<circle cx="193.31" cy="267.88" r="1.6" fill="#0c0"/>
<circle cx="195.14" cy="264.96" r="1.6" fill="#0c0"/>
<circle cx="200.98" cy="258.39" r="1.6" fill="#0c0"/>
<circle cx="203.17" cy="261.53" r="1.6" fill="#0c0"/>
<circle cx="199.15" cy="268.61" r="1.6" fill="#0c0"/>
<circle cx="197.69" cy="271.17" r="1.6" fill="#0c0"/>
<circle cx="199.88" cy="269.71" r="1.6" fill="#0c0"/>
<circle cx="203.53" cy="271.17" r="1.6" fill="#0c0"/>
<circle cx="200.98" cy="274.45" r="1.6" fill="#0c0"/>
<circle cx="206.45" cy="274.45" r="1.6" fill="#0c0"/>
<circle cx="210.83" cy="273.72" r="1.6" fill="#0c0"/>
<circle cx="210.1" cy="258.39" r="1.6" fill="#0c0"/>
<circle cx="208.64" cy="263.5" r="1.6" fill="#0c0"/>
<circle cx="207.91" cy="265.33" r="1.6" fill="#0c0"/>
<circle cx="210.83" cy="264.23" r="1.6" fill="#0c0"/>
<circle cx="211.93" cy="264.6" r="1.6" fill="#0c0"/>
<circle cx="207.55" cy="267.52" r="1.6" fill="#0c0"/>
<circle cx="208.28" cy="269.34" r="1.6" fill="#0c0"/>
<circle cx="214.12" cy="255.84" r="1.6" fill="#0c0"/>
<circle cx="216.31" cy="255.47" r="1.6" fill="#0c0"/>
<circle cx="215.94" cy="259.12" r="1.6" fill="#0c0"/>
<circle cx="219.59" cy="252.92" r="1.6" fill="#0c0"/>
<circle cx="222.15" cy="252.92" r="1.6" fill="#0c0"/>
<circle cx="222.88" cy="255.11" r="1.6" fill="#0c0"/>
<circle cx="223.24" cy="257.66" r="1.6" fill="#0c0"/>
<circle cx="225.8" cy="252.19" r="1.6" fill="#0c0"/>
<circle cx="220.69" cy="260.58" r="1.6" fill="#0c0"/>
<circle cx="221.05" cy="264.96" r="1.6" fill="#0c0"/>
<circle cx="222.88" cy="270.07" r="1.6" fill="#0c0"/>
<circle cx="229.45" cy="268.83" r="1.6" fill="#0c0"/>
<circle cx="230.54" cy="255.11" r="1.6" fill="#0c0"/>
<circle cx="194.55" cy="279.01" r="1.6" fill="#0c0"/>
<circle cx="199.52" cy="277.92" r="1.6" fill="#0c0"/>
<circle cx="201.12" cy="278.28" r="1.6" fill="#0c0"/>
<circle cx="212.29" cy="278.28" r="1.6" fill="#0c0"/>
<circle cx="213.02" cy="280.11" r="1.6" fill="#0c0"/>
<circle cx="216.67" cy="279.96" r="1.6" fill="#0c0"/>
<circle cx="204.26" cy="282.3" r="1.6" fill="#0c0"/>
<circle cx="205.36" cy="283.39" r="1.6" fill="#0c0"/>
<circle cx="203.75" cy="285.58" r="1.6" fill="#0c0"/>
<circle cx="210.47" cy="283.18" r="1.6" fill="#0c0"/>
<circle cx="199.15" cy="288.5" r="1.6" fill="#0c0"/>
<circle cx="200.98" cy="289.23" r="1.6" fill="#0c0"/>
<circle cx="186.53" cy="290.47" r="1.6" fill="#0c0"/>
<circle cx="208.64" cy="291.2" r="1.6" fill="#0c0"/>
<circle cx="206.45" cy="295.8" r="1.6" fill="#0c0"/>
<circle cx="213.53" cy="296.31" r="1.6" fill="#0c0"/>
<circle cx="212.29" cy="276.82" r="1.6" fill="#0c0"/>
<circle cx="234.4" cy="265.4" r="1.6" fill="#0c0"/>
<circle cx="237.4" cy="271.2" r="1.6" fill="#0c0"/>
<circle cx="233.6" cy="250.8" r="1.6" fill="#0c0"/>
<circle cx="73.25" cy="105.22" r="1.6" fill="#00f"/>
<circle cx="74.71" cy="106.31" r="1.6" fill="#00f"/>
<circle cx="76.17" cy="106.68" r="1.6" fill="#00f"/>
<circle cx="74.34" cy="107.77" r="1.6" fill="#00f"/>
<circle cx="85.66" cy="107.04" r="1.6" fill="#00f"/>
<circle cx="87.12" cy="111.06" r="1.6" fill="#00f"/>
<circle cx="90.77" cy="112.15" r="1.6" fill="#00f"/>
<circle cx="79.82" cy="113.61" r="1.6" fill="#00f"/>
<circle cx="84.2" cy="113.61" r="1.6" fill="#00f"/>
<circle cx="83.47" cy="115.8" r="1.6" fill="#00f"/>
<circle cx="98.8" cy="117.26" r="1.6" fill="#00f"/>
<circle cx="103.91" cy="110.33" r="1.6" fill="#00f"/>
<circle cx="87.85" cy="119.45" r="1.6" fill="#00f"/>
<circle cx="88.58" cy="105.22" r="1.6" fill="#000"/>
<circle cx="84.93" cy="108.5" r="1.6" fill="#000"/>
<circle cx="68.14" cy="107.04" r="1.6" fill="#000"/>
<circle cx="68.87" cy="110.33" r="1.6" fill="#000"/>
<circle cx="73.98" cy="110.33" r="1.6" fill="#000"/>
<circle cx="78.36" cy="110.69" r="1.6" fill="#000"/>
<circle cx="82.01" cy="111.06" r="1.6" fill="#000"/>
<circle cx="82.37" cy="112.52" r="1.6" fill="#000"/>
<circle cx="92.96" cy="108.5" r="1.6" fill="#000"/>
<circle cx="94.78" cy="112.15" r="1.6" fill="#000"/>
<circle cx="98.07" cy="109.6" r="1.6" fill="#000"/>
<circle cx="100.26" cy="114.34" r="1.6" fill="#000"/>
<circle cx="102.45" cy="116.53" r="1.6" fill="#000"/>
<circle cx="95.15" cy="116.9" r="1.6" fill="#000"/>
<circle cx="103.91" cy="108.5" r="1.6" fill="#000"/>
<circle cx="107.04" cy="104.01" r="1.6" fill="#000"/>
<circle cx="108.5" cy="110.95" r="1.6" fill="#000"/>
<circle cx="109.6" cy="112.04" r="1.6" fill="#000"/>
<circle cx="107.04" cy="112.77" r="1.6" fill="#000"/>
<circle cx="109.96" cy="114.96" r="1.6" fill="#000"/>
<circle cx="114.34" cy="110.22" r="1.6" fill="#000"/>
<circle cx="115.8" cy="110.58" r="1.6" fill="#000"/>
<circle cx="118.72" cy="107.3" r="1.6" fill="#000"/>
<circle cx="122.37" cy="104.74" r="1.6" fill="#000"/>
<circle cx="124.2" cy="104.01" r="1.6" fill="#000"/>
<circle cx="117.63" cy="113.5" r="1.6" fill="#000"/>
<circle cx="118.72" cy="114.96" r="1.6" fill="#000"/>
<circle cx="114.34" cy="117.15" r="1.6" fill="#000"/>
<circle cx="112.88" cy="119.71" r="1.6" fill="#000"/>
<circle cx="116.17" cy="121.17" r="1.6" fill="#000"/>
<circle cx="119.09" cy="121.17" r="1.6" fill="#000"/>
<circle cx="120.55" cy="118.25" r="1.6" fill="#000"/>
<circle cx="122.74" cy="117.52" r="1.6" fill="#000"/>
<circle cx="124.2" cy="117.52" r="1.6" fill="#000"/>
<circle cx="123.47" cy="111.68" r="1.6" fill="#000"/>
<circle cx="126.39" cy="111.68" r="1.6" fill="#000"/>
<circle cx="129.31" cy="112.04" r="1.6" fill="#000"/>
<circle cx="128.94" cy="114.6" r="1.6" fill="#000"/>
<circle cx="128.58" cy="116.79" r="1.6" fill="#000"/>
<circle cx="127.12" cy="119.71" r="1.6" fill="#000"/>
<circle cx="129.31" cy="119.71" r="1.6" fill="#000"/>
<circle cx="130.77" cy="118.98" r="1.6" fill="#000"/>
<circle cx="129.31" cy="121.9" r="1.6" fill="#000"/>
<circle cx="134.42" cy="108.76" r="1.6" fill="#000"/>
<circle cx="133.69" cy="111.31" r="1.6" fill="#000"/>
<circle cx="138.07" cy="110.95" r="1.6" fill="#000"/>
<circle cx="134.78" cy="116.79" r="1.6" fill="#000"/>
<circle cx="135.15" cy="118.98" r="1.6" fill="#000"/>
<circle cx="137.7" cy="121.9" r="1.6" fill="#000"/>
<circle cx="112.52" cy="124.09" r="1.6" fill="#000"/>
<circle cx="122.01" cy="123.36" r="1.6" fill="#000"/>
<circle cx="108.5" cy="119.71" r="1.6" fill="#000"/>
<circle cx="108.14" cy="121.17" r="1.6" fill="#000"/>
<circle cx="105.22" cy="110.22" r="1.6" fill="#00f"/>
<circle cx="126.02" cy="109.12" r="1.6" fill="#00f"/>
<circle cx="104.49" cy="119.34" r="1.6" fill="#00f"/>
<circle cx="101.93" cy="121.17" r="1.6" fill="#00f"/>
<circle cx="91.13" cy="121.82" r="1.6" fill="#00f"/>
<circle cx="86.39" cy="123.28" r="1.6" fill="#000"/>
<circle cx="84.93" cy="126.93" r="1.6" fill="#000"/>
<circle cx="98.43" cy="125.84" r="1.6" fill="#000"/>
<circle cx="104.64" cy="125.47" r="1.6" fill="#000"/>
<circle cx="91.35" cy="137.15" r="1.6" fill="#000"/>
<circle cx="103.54" cy="133.87" r="1.6" fill="#000"/>
<circle cx="102.45" cy="136.06" r="1.6" fill="#000"/>
<circle cx="98.07" cy="143.72" r="1.6" fill="#000"/>
<circle cx="101.35" cy="143.72" r="1.6" fill="#000"/>
<circle cx="108.87" cy="125.47" r="1.6" fill="#000"/>
<circle cx="120.91" cy="124.74" r="1.6" fill="#000"/>
<circle cx="122.01" cy="125.47" r="1.6" fill="#000"/>
<circle cx="119.09" cy="128.03" r="1.6" fill="#000"/>
<circle cx="117.63" cy="129.49" r="1.6" fill="#000"/>
<circle cx="116.9" cy="130.95" r="1.6" fill="#000"/>
<circle cx="115.44" cy="132.77" r="1.6" fill="#000"/>
<circle cx="114.34" cy="133.87" r="1.6" fill="#000"/>
<circle cx="112.52" cy="135.69" r="1.6" fill="#000"/>
<circle cx="109.6" cy="136.06" r="1.6" fill="#000"/>
<circle cx="109.96" cy="137.52" r="1.6" fill="#000"/>
<circle cx="121.28" cy="133.5" r="1.6" fill="#000"/>
<circle cx="122.74" cy="134.6" r="1.6" fill="#000"/>
<circle cx="123.83" cy="130.58" r="1.6" fill="#000"/>
<circle cx="126.39" cy="132.77" r="1.6" fill="#000"/>
<circle cx="128.94" cy="133.14" r="1.6" fill="#000"/>
<circle cx="130.77" cy="134.23" r="1.6" fill="#000"/>
<circle cx="131.5" cy="135.33" r="1.6" fill="#000"/>
<circle cx="129.67" cy="136.42" r="1.6" fill="#000"/>
<circle cx="126.39" cy="137.15" r="1.6" fill="#000"/>
<circle cx="118.36" cy="137.15" r="1.6" fill="#000"/>
<circle cx="121.28" cy="138.98" r="1.6" fill="#000"/>
<circle cx="122.37" cy="140.44" r="1.6" fill="#000"/>
<circle cx="123.83" cy="141.53" r="1.6" fill="#000"/>
<circle cx="114.71" cy="140.07" r="1.6" fill="#000"/>
<circle cx="114.34" cy="141.9" r="1.6" fill="#000"/>
<circle cx="111.79" cy="143.36" r="1.6" fill="#000"/>
<circle cx="132.23" cy="130.22" r="1.6" fill="#000"/>
<circle cx="134.78" cy="129.12" r="1.6" fill="#000"/>
<circle cx="136.97" cy="131.68" r="1.6" fill="#000"/>
<circle cx="138.07" cy="133.5" r="1.6" fill="#000"/>
<circle cx="138.8" cy="126.57" r="1.6" fill="#000"/>
<circle cx="132.96" cy="141.9" r="1.6" fill="#000"/>
<circle cx="135.15" cy="140.8" r="1.6" fill="#000"/>
<circle cx="138.07" cy="139.71" r="1.6" fill="#000"/>
<circle cx="124.93" cy="126.57" r="1.6" fill="#00f"/>
<circle cx="128.58" cy="129.12" r="1.6" fill="#00f"/>
<circle cx="134.27" cy="128.18" r="1.6" fill="#f00"/>
<circle cx="111.53" cy="148.65" r="1.6" fill="#000"/>
<circle cx="112.99" cy="147.92" r="1.6" fill="#000"/>
<circle cx="123.21" cy="147.19" r="1.6" fill="#000"/>
<circle cx="129.05" cy="153.03" r="1.6" fill="#000"/>
<circle cx="130.51" cy="155.22" r="1.6" fill="#000"/>
<circle cx="133.43" cy="156.68" r="1.6" fill="#000"/>
<circle cx="136.35" cy="158.14" r="1.6" fill="#000"/>
<circle cx="139.27" cy="152.3" r="1.6" fill="#000"/>
<circle cx="123.94" cy="155.95" r="1.6" fill="#000"/>
<circle cx="125.4" cy="159.6" r="1.6" fill="#000"/>
<circle cx="128.32" cy="158.87" r="1.6" fill="#000"/>
<circle cx="127.59" cy="163.25" r="1.6" fill="#000"/>
<circle cx="126.13" cy="164.71" r="1.6" fill="#000"/>
<circle cx="106.42" cy="159.31" r="1.6" fill="#000"/>
<circle cx="114.45" cy="160.33" r="1.6" fill="#000"/>
<circle cx="115.91" cy="162.52" r="1.6" fill="#000"/>
<circle cx="115.91" cy="166.9" r="1.6" fill="#000"/>
<circle cx="131.97" cy="169.09" r="1.6" fill="#000"/>
<circle cx="137.81" cy="172.01" r="1.6" fill="#000"/>
<circle cx="121.02" cy="172.74" r="1.6" fill="#000"/>
<circle cx="131.68" cy="175.95" r="1.6" fill="#000"/>
<circle cx="109.34" cy="175.66" r="1.6" fill="#000"/>
<circle cx="110.8" cy="177.85" r="1.6" fill="#000"/>
<circle cx="107.15" cy="178.58" r="1.6" fill="#000"/>
<circle cx="115.91" cy="179.31" r="1.6" fill="#000"/>
<circle cx="116.64" cy="181.5" r="1.6" fill="#000"/>
<circle cx="118.83" cy="183.25" r="1.6" fill="#000"/>
<circle cx="121.02" cy="184.12" r="1.6" fill="#000"/>
<circle cx="112.26" cy="184.12" r="1.6" fill="#000"/>
<circle cx="127.59" cy="183.25" r="1.6" fill="#000"/>
<circle cx="129.78" cy="185.15" r="1.6" fill="#000"/>
<circle cx="137.81" cy="183.25" r="1.6" fill="#000"/>
<circle cx="119.56" cy="188.5" r="1.6" fill="#000"/>
<circle cx="123.21" cy="188.8" r="1.6" fill="#000"/>
<circle cx="125.4" cy="188.5" r="1.6" fill="#000"/>
<circle cx="133.43" cy="191.72" r="1.6" fill="#000"/>
<circle cx="115.18" cy="193.18" r="1.6" fill="#000"/>
<circle cx="118.1" cy="192.88" r="1.6" fill="#000"/>
<circle cx="123.21" cy="169.53" r="1.6" fill="#00f"/>
<circle cx="121.75" cy="170.11" r="1.6" fill="#00f"/>
<circle cx="122.48" cy="174.93" r="1.6" fill="#0c0"/>
<circle cx="127.3" cy="172.01" r="1.6" fill="#0c0"/>
<circle cx="132.26" cy="187.63" r="1.6" fill="#0c0"/>
<circle cx="121.02" cy="196.75" r="1.6" fill="#000"/>
<circle cx="126.13" cy="198.65" r="1.6" fill="#000"/>
<circle cx="121.75" cy="203.03" r="1.6" fill="#000"/>
<circle cx="53.14" cy="84.2" r="1.6" fill="#00f"/>
<circle cx="54.6" cy="87.85" r="1.6" fill="#00f"/>
<circle cx="59.71" cy="88.58" r="1.6" fill="#00f"/>
<circle cx="62.63" cy="90.04" r="1.6" fill="#00f"/>
<circle cx="65.55" cy="91.5" r="1.6" fill="#00f"/>
<circle cx="56.79" cy="90.77" r="1.6" fill="#00f"/>
<circle cx="58.25" cy="92.96" r="1.6" fill="#00f"/>
<circle cx="649.56" cy="32.92" r="1.6" fill="#f00"/>
<circle cx="648.47" cy="34.38" r="1.6" fill="#f00"/>
<circle cx="647.74" cy="35.47" r="1.6" fill="#f00"/>
<circle cx="651.02" cy="35.47" r="1.6" fill="#f00"/>
<circle cx="649.93" cy="36.93" r="1.6" fill="#f00"/>
<circle cx="646.64" cy="38.03" r="1.6" fill="#f00"/>
<circle cx="648.47" cy="38.39" r="1.6" fill="#f00"/>
<circle cx="651.39" cy="38.76" r="1.6" fill="#f00"/>
<circle cx="653.21" cy="39.49" r="1.6" fill="#f00"/>
<circle cx="647.01" cy="40.22" r="1.6" fill="#f00"/>
<circle cx="645.55" cy="42.04" r="1.6" fill="#f00"/>
<circle cx="644.45" cy="43.14" r="1.6" fill="#f00"/>
<circle cx="646.28" cy="42.77" r="1.6" fill="#f00"/>
<circle cx="647.37" cy="44.23" r="1.6" fill="#f00"/>
<circle cx="644.82" cy="45.33" r="1.6" fill="#f00"/>
<circle cx="643.36" cy="44.23" r="1.6" fill="#f00"/>
<circle cx="639.34" cy="45.33" r="1.6" fill="#f00"/>
<circle cx="639.71" cy="46.79" r="1.6" fill="#f00"/>
<circle cx="641.9" cy="47.15" r="1.6" fill="#f00"/>
<circle cx="638.61" cy="49.34" r="1.6" fill="#f00"/>
<circle cx="640.8" cy="49.71" r="1.6" fill="#f00"/>
<circle cx="642.26" cy="50.44" r="1.6" fill="#f00"/>
<circle cx="644.09" cy="49.34" r="1.6" fill="#f00"/>
<circle cx="647.74" cy="49.34" r="1.6" fill="#f00"/>
<circle cx="641.9" cy="51.9" r="1.6" fill="#f00"/>
<circle cx="644.09" cy="52.26" r="1.6" fill="#f00"/>
<circle cx="645.91" cy="51.9" r="1.6" fill="#f00"/>
<circle cx="648.47" cy="52.63" r="1.6" fill="#f00"/>
<circle cx="635.33" cy="53.36" r="1.6" fill="#f00"/>
<circle cx="636.79" cy="54.09" r="1.6" fill="#f00"/>
<circle cx="643.36" cy="54.09" r="1.6" fill="#f00"/>
<circle cx="638.4" cy="57.0" r="1.6" fill="#f00"/>
<circle cx="642.0" cy="58.5" r="1.6" fill="#f00"/>
<circle cx="648.6" cy="58.5" r="1.6" fill="#f00"/>
<circle cx="629.3" cy="60.0" r="1.6" fill="#f00"/>
<circle cx="634.3" cy="60.7" r="1.6" fill="#f00"/>
<circle cx="640.6" cy="61.7" r="1.6" fill="#f00"/>
<circle cx="646.4" cy="63.3" r="1.6" fill="#f00"/>
<circle cx="592.4" cy="63.6" r="1.6" fill="#f00"/>
<circle cx="602.92" cy="75.51" r="1.6" fill="#f00"/>
<circle cx="625.99" cy="90.84" r="1.6" fill="#f00"/>
<circle cx="630.36" cy="90.55" r="1.6" fill="#f00"/>
<circle cx="632.26" cy="90.11" r="1.6" fill="#f00"/>
<circle cx="633.28" cy="88.36" r="1.6" fill="#f00"/>
<circle cx="636.64" cy="88.36" r="1.6" fill="#f00"/>
<circle cx="626.42" cy="95.66" r="1.6" fill="#f00"/>
<circle cx="634.74" cy="94.93" r="1.6" fill="#f00"/>
<circle cx="654.45" cy="118.21" r="1.6" fill="#f00"/>
<circle cx="643.07" cy="148.87" r="1.6" fill="#f00"/>
<circle cx="642.77" cy="152.37" r="1.6" fill="#f00"/>
<circle cx="646.86" cy="173.32" r="1.6" fill="#f00"/>
<circle cx="645.11" cy="180.33" r="1.6" fill="#f00"/>
<circle cx="644.23" cy="184.27" r="1.6" fill="#f00"/>
<circle cx="645.4" cy="187.34" r="1.6" fill="#f00"/>
<circle cx="647.15" cy="187.92" r="1.6" fill="#f00"/>
<circle cx="651.24" cy="208.21" r="1.6" fill="#f00"/>
<circle cx="587.3" cy="243.47" r="1.6" fill="#f00"/>
<circle cx="601.17" cy="250.04" r="1.6" fill="#f00"/>
<circle cx="623.07" cy="263.61" r="1.6" fill="#f00"/>
<circle cx="642.77" cy="239.53" r="1.6" fill="#f00"/>
<circle cx="649.64" cy="236.61" r="1.6" fill="#f00"/>
<circle cx="654.74" cy="237.34" r="1.6" fill="#f00"/>
<circle cx="639.56" cy="251.79" r="1.6" fill="#f00"/>
<circle cx="652.55" cy="249.74" r="1.6" fill="#f00"/>
<circle cx="655.47" cy="250.33" r="1.6" fill="#f00"/>
<circle cx="655.91" cy="251.93" r="1.6" fill="#f00"/>
<circle cx="659.71" cy="248.28" r="1.6" fill="#f00"/>
<circle cx="650.36" cy="255.88" r="1.6" fill="#f00"/>
<circle cx="640.15" cy="256.9" r="1.6" fill="#f00"/>
<circle cx="642.48" cy="257.77" r="1.6" fill="#f00"/>
<circle cx="643.07" cy="258.8" r="1.6" fill="#f00"/>
<circle cx="652.55" cy="259.09" r="1.6" fill="#f00"/>
<circle cx="642.48" cy="262.74" r="1.6" fill="#f00"/>
<circle cx="652.26" cy="262.01" r="1.6" fill="#f00"/>
<circle cx="655.62" cy="262.15" r="1.6" fill="#f00"/>
<circle cx="649.71" cy="266.01" r="1.6" fill="#f00"/>
<circle cx="645.33" cy="268.2" r="1.6" fill="#f00"/>
<circle cx="647.15" cy="269.66" r="1.6" fill="#f00"/>
<circle cx="652.63" cy="268.2" r="1.6" fill="#f00"/>
<circle cx="640.22" cy="272.58" r="1.6" fill="#f00"/>
<circle cx="643.87" cy="272.22" r="1.6" fill="#f00"/>
<circle cx="649.34" cy="272.22" r="1.6" fill="#f00"/>
<circle cx="655.55" cy="271.12" r="1.6" fill="#f00"/>
<circle cx="652.99" cy="272.95" r="1.6" fill="#f00"/>
<circle cx="654.82" cy="273.68" r="1.6" fill="#f00"/>
<circle cx="661.39" cy="272.95" r="1.6" fill="#f00"/>
<circle cx="662.48" cy="269.15" r="1.6" fill="#f00"/>
<circle cx="658.47" cy="275.14" r="1.6" fill="#f00"/>
<circle cx="657.01" cy="276.6" r="1.6" fill="#f00"/>
<circle cx="651.53" cy="276.23" r="1.6" fill="#f00"/>
<circle cx="651.9" cy="278.42" r="1.6" fill="#f00"/>
<circle cx="653.36" cy="279.52" r="1.6" fill="#f00"/>
<circle cx="645.69" cy="279.88" r="1.6" fill="#f00"/>
<circle cx="646.42" cy="279.15" r="1.6" fill="#f00"/>
<circle cx="651.17" cy="281.34" r="1.6" fill="#f00"/>
<circle cx="651.9" cy="283.53" r="1.6" fill="#f00"/>
<circle cx="661.75" cy="277.33" r="1.6" fill="#f00"/>
<circle cx="660.66" cy="279.52" r="1.6" fill="#f00"/>
<circle cx="658.83" cy="280.98" r="1.6" fill="#f00"/>
<circle cx="662.12" cy="281.71" r="1.6" fill="#f00"/>
<circle cx="664.31" cy="283.9" r="1.6" fill="#f00"/>
<circle cx="662.85" cy="285.36" r="1.6" fill="#f00"/>
<circle cx="660.66" cy="286.09" r="1.6" fill="#f00"/>
<circle cx="650.44" cy="286.09" r="1.6" fill="#f00"/>
<circle cx="663.58" cy="286.45" r="1.6" fill="#f00"/>
<circle cx="651.9" cy="288.82" r="1.6" fill="#f00"/>
<circle cx="661.39" cy="289.19" r="1.6" fill="#f00"/>
<circle cx="664.31" cy="288.46" r="1.6" fill="#f00"/>
<circle cx="659.56" cy="291.01" r="1.6" fill="#f00"/>
<circle cx="658.47" cy="293.2" r="1.6" fill="#f00"/>
<circle cx="662.85" cy="292.11" r="1.6" fill="#f00"/>
<circle cx="665.04" cy="293.2" r="1.6" fill="#f00"/>
<circle cx="659.2" cy="296.49" r="1.6" fill="#f00"/>
<circle cx="486.13" cy="144.63" r="1.6" fill="#000"/>
<circle cx="489.49" cy="147.55" r="1.6" fill="#000"/>
<circle cx="491.39" cy="147.99" r="1.6" fill="#000"/>
<circle cx="493.14" cy="147.11" r="1.6" fill="#000"/>
<circle cx="499.27" cy="147.11" r="1.6" fill="#000"/>
<circle cx="505.99" cy="138.06" r="1.6" fill="#000"/>
<circle cx="508.91" cy="142.15" r="1.6" fill="#000"/>
<circle cx="507.74" cy="144.63" r="1.6" fill="#000"/>
<circle cx="513.58" cy="144.63" r="1.6" fill="#000"/>
<circle cx="528.47" cy="137.77" r="1.6" fill="#000"/>
<circle cx="518.98" cy="139.96" r="1.6" fill="#f00"/>
<circle cx="569.93" cy="158.06" r="1.6" fill="#f00"/>
<circle cx="535.04" cy="189.96" r="1.6" fill="#f00"/>
<circle cx="549.49" cy="195.07" r="1.6" fill="#f00"/>
<circle cx="482.92" cy="216.53" r="1.6" fill="#000"/>
<circle cx="532.26" cy="236.6" r="1.6" fill="#f00"/>
<circle cx="538.1" cy="238.06" r="1.6" fill="#f00"/>
<circle cx="569.34" cy="258.2" r="1.6" fill="#f00"/>
<circle cx="403.68" cy="167.01" r="1.6" fill="#0c0"/>
<circle cx="405.5" cy="167.01" r="1.6" fill="#0c0"/>
<circle cx="397.84" cy="168.47" r="1.6" fill="#0c0"/>
<circle cx="399.66" cy="168.47" r="1.6" fill="#0c0"/>
<circle cx="401.49" cy="168.47" r="1.6" fill="#0c0"/>
<circle cx="403.31" cy="168.47" r="1.6" fill="#0c0"/>
<circle cx="405.14" cy="168.47" r="1.6" fill="#0c0"/>
<circle cx="406.96" cy="168.47" r="1.6" fill="#0c0"/>
<circle cx="410.61" cy="168.47" r="1.6" fill="#0c0"/>
<circle cx="412.44" cy="168.47" r="1.6" fill="#0c0"/>
<circle cx="396.74" cy="169.93" r="1.6" fill="#0c0"/>
<circle cx="398.57" cy="169.93" r="1.6" fill="#0c0"/>
<circle cx="400.39" cy="169.93" r="1.6" fill="#0c0"/>
<circle cx="402.22" cy="169.93" r="1.6" fill="#0c0"/>
<circle cx="404.04" cy="169.93" r="1.6" fill="#0c0"/>
<circle cx="405.87" cy="169.93" r="1.6" fill="#0c0"/>
<circle cx="407.69" cy="169.93" r="1.6" fill="#0c0"/>
<circle cx="409.52" cy="169.93" r="1.6" fill="#0c0"/>
<circle cx="411.34" cy="169.93" r="1.6" fill="#0c0"/>
<circle cx="413.17" cy="169.93" r="1.6" fill="#0c0"/>
<circle cx="397.11" cy="171.39" r="1.6" fill="#0c0"/>
<circle cx="398.93" cy="171.39" r="1.6" fill="#0c0"/>
<circle cx="400.76" cy="171.39" r="1.6" fill="#0c0"/>
<circle cx="402.58" cy="171.39" r="1.6" fill="#0c0"/>
<circle cx="404.41" cy="171.39" r="1.6" fill="#0c0"/>
<circle cx="406.23" cy="171.39" r="1.6" fill="#0c0"/>
<circle cx="408.06" cy="171.39" r="1.6" fill="#0c0"/>
<circle cx="409.88" cy="171.39" r="1.6" fill="#0c0"/>
<circle cx="413.53" cy="171.39" r="1.6" fill="#0c0"/>
<circle cx="398.93" cy="172.85" r="1.6" fill="#0c0"/>
<circle cx="400.76" cy="172.85" r="1.6" fill="#0c0"/>
<circle cx="402.58" cy="172.85" r="1.6" fill="#0c0"/>
<circle cx="404.41" cy="172.85" r="1.6" fill="#0c0"/>
<circle cx="406.23" cy="172.85" r="1.6" fill="#0c0"/>
<circle cx="408.06" cy="172.85" r="1.6" fill="#0c0"/>
<circle cx="409.88" cy="172.85" r="1.6" fill="#0c0"/>
<circle cx="413.9" cy="172.85" r="1.6" fill="#0c0"/>
<circle cx="401.12" cy="174.31" r="1.6" fill="#0c0"/>
<circle cx="402.95" cy="174.31" r="1.6" fill="#0c0"/>
<circle cx="404.77" cy="174.31" r="1.6" fill="#0c0"/>
<circle cx="406.6" cy="174.31" r="1.6" fill="#0c0"/>
<circle cx="408.42" cy="174.31" r="1.6" fill="#0c0"/>
<circle cx="410.25" cy="174.31" r="1.6" fill="#0c0"/>
<circle cx="413.9" cy="174.31" r="1.6" fill="#0c0"/>
<circle cx="403.31" cy="175.77" r="1.6" fill="#0c0"/>
<circle cx="405.14" cy="175.77" r="1.6" fill="#0c0"/>
<circle cx="406.96" cy="175.77" r="1.6" fill="#0c0"/>
<circle cx="409.15" cy="175.77" r="1.6" fill="#0c0"/>
<circle cx="410.98" cy="175.77" r="1.6" fill="#0c0"/>
<circle cx="412.8" cy="175.77" r="1.6" fill="#0c0"/>
<circle cx="405.14" cy="177.23" r="1.6" fill="#0c0"/>
<circle cx="406.96" cy="177.23" r="1.6" fill="#0c0"/>
<circle cx="408.79" cy="177.23" r="1.6" fill="#0c0"/>
<circle cx="413.17" cy="177.23" r="1.6" fill="#0c0"/>
<circle cx="405.87" cy="178.69" r="1.6" fill="#0c0"/>
<circle cx="407.69" cy="178.69" r="1.6" fill="#0c0"/>
<circle cx="411.34" cy="178.69" r="1.6" fill="#0c0"/>
<circle cx="406.6" cy="180.52" r="1.6" fill="#0c0"/>
<circle cx="411.71" cy="180.52" r="1.6" fill="#0c0"/>
<circle cx="406.96" cy="182.12" r="1.6" fill="#0c0"/>
<circle cx="416.09" cy="168.84" r="1.6" fill="#0c0"/>
<circle cx="417.18" cy="172.85" r="1.6" fill="#0c0"/>
<circle cx="417.18" cy="178.33" r="1.6" fill="#0c0"/>
<circle cx="415.72" cy="181.61" r="1.6" fill="#0c0"/>
<circle cx="420.47" cy="168.47" r="1.6" fill="#0c0"/>
<circle cx="422.66" cy="167.74" r="1.6" fill="#0c0"/>
<circle cx="425.21" cy="169.2" r="1.6" fill="#0c0"/>
<circle cx="421.56" cy="173.95" r="1.6" fill="#0c0"/>
<circle cx="423.39" cy="174.68" r="1.6" fill="#0c0"/>
<circle cx="420.83" cy="177.23" r="1.6" fill="#0c0"/>
<circle cx="464.2" cy="196.9" r="1.6" fill="#000"/>
<circle cx="471.4" cy="202.9" r="1.6" fill="#000"/>
<circle cx="474.2" cy="206.6" r="1.6" fill="#000"/>
<circle cx="463.7" cy="216.0" r="1.6" fill="#000"/>
<circle cx="483.0" cy="216.2" r="1.6" fill="#000"/>
<circle cx="458.3" cy="173.7" r="1.6" fill="#000"/>
<circle cx="444.3" cy="170.0" r="1.6" fill="#0c0"/>
<circle cx="462.1" cy="189.8" r="1.6" fill="#0c0"/>
<circle cx="660.47" cy="288.02" r="1.6" fill="#f00"/>
<circle cx="662.33" cy="290.81" r="1.6" fill="#f00"/>
<circle cx="664.19" cy="288.95" r="1.6" fill="#f00"/>
<circle cx="659.53" cy="290.81" r="1.6" fill="#f00"/>
<circle cx="663.26" cy="292.67" r="1.6" fill="#f00"/>
<circle cx="661.4" cy="286.16" r="1.6" fill="#f00"/>
<circle cx="653.02" cy="280.58" r="1.6" fill="#f00"/>
<circle cx="432.12" cy="191.03" r="1.6" fill="#000"/>
<circle cx="433.94" cy="191.03" r="1.6" fill="#000"/>
<circle cx="429.2" cy="192.85" r="1.6" fill="#000"/>
<circle cx="431.39" cy="192.85" r="1.6" fill="#000"/>
<circle cx="433.58" cy="192.85" r="1.6" fill="#000"/>
<circle cx="435.77" cy="192.85" r="1.6" fill="#000"/>
<circle cx="427.01" cy="194.68" r="1.6" fill="#000"/>
<circle cx="429.2" cy="194.68" r="1.6" fill="#000"/>
<circle cx="431.39" cy="194.68" r="1.6" fill="#000"/>
<circle cx="433.58" cy="194.68" r="1.6" fill="#000"/>
<circle cx="435.77" cy="194.68" r="1.6" fill="#000"/>
<circle cx="437.96" cy="194.68" r="1.6" fill="#000"/>
<circle cx="424.82" cy="196.5" r="1.6" fill="#000"/>
<circle cx="427.01" cy="196.5" r="1.6" fill="#000"/>
<circle cx="429.2" cy="196.5" r="1.6" fill="#000"/>
<circle cx="431.39" cy="196.5" r="1.6" fill="#000"/>
<circle cx="433.58" cy="196.5" r="1.6" fill="#000"/>
<circle cx="435.77" cy="196.5" r="1.6" fill="#000"/>
<circle cx="437.96" cy="196.5" r="1.6" fill="#000"/>
<circle cx="422.63" cy="198.33" r="1.6" fill="#000"/>
<circle cx="424.82" cy="198.33" r="1.6" fill="#000"/>
<circle cx="427.01" cy="198.33" r="1.6" fill="#000"/>
<circle cx="429.2" cy="198.33" r="1.6" fill="#000"/>
<circle cx="431.39" cy="198.33" r="1.6" fill="#000"/>
<circle cx="433.58" cy="198.33" r="1.6" fill="#000"/>
<circle cx="435.77" cy="198.33" r="1.6" fill="#000"/>
<circle cx="437.96" cy="198.33" r="1.6" fill="#000"/>
<circle cx="424.09" cy="200.15" r="1.6" fill="#000"/>
<circle cx="426.28" cy="200.15" r="1.6" fill="#000"/>
<circle cx="428.47" cy="200.15" r="1.6" fill="#000"/>
<circle cx="430.66" cy="200.15" r="1.6" fill="#000"/>
<circle cx="432.85" cy="200.15" r="1.6" fill="#000"/>
<circle cx="435.04" cy="200.15" r="1.6" fill="#000"/>
<circle cx="437.96" cy="200.15" r="1.6" fill="#000"/>
<circle cx="424.82" cy="201.98" r="1.6" fill="#000"/>
<circle cx="427.01" cy="201.98" r="1.6" fill="#000"/>
<circle cx="429.2" cy="201.98" r="1.6" fill="#000"/>
<circle cx="431.39" cy="201.98" r="1.6" fill="#000"/>
<circle cx="433.58" cy="201.98" r="1.6" fill="#000"/>
<circle cx="436.5" cy="201.98" r="1.6" fill="#000"/>
<circle cx="427.74" cy="203.8" r="1.6" fill="#000"/>
<circle cx="430.66" cy="203.8" r="1.6" fill="#000"/>
<circle cx="432.85" cy="203.8" r="1.6" fill="#000"/>
<circle cx="437.23" cy="203.8" r="1.6" fill="#000"/>
<circle cx="416.79" cy="185.19" r="1.6" fill="#000"/>
<circle cx="420.44" cy="186.28" r="1.6" fill="#000"/>
<circle cx="414.96" cy="188.47" r="1.6" fill="#000"/>
<circle cx="410.58" cy="190.3" r="1.6" fill="#000"/>
<circle cx="418.25" cy="190.3" r="1.6" fill="#000"/>
<circle cx="418.98" cy="191.03" r="1.6" fill="#000"/>
<circle cx="422.99" cy="189.93" r="1.6" fill="#000"/>
<circle cx="423.36" cy="193.22" r="1.6" fill="#000"/>
<circle cx="414.6" cy="193.58" r="1.6" fill="#000"/>
<circle cx="415.69" cy="195.41" r="1.6" fill="#000"/>
<circle cx="418.25" cy="195.41" r="1.6" fill="#000"/>
<circle cx="427.01" cy="185.55" r="1.6" fill="#000"/>
<circle cx="433.58" cy="184.09" r="1.6" fill="#000"/>
<circle cx="434.67" cy="185.55" r="1.6" fill="#000"/>
<circle cx="433.21" cy="187.38" r="1.6" fill="#000"/>
<circle cx="443.8" cy="197.6" r="1.6" fill="#000"/>
<circle cx="445.26" cy="199.79" r="1.6" fill="#000"/>
<circle cx="443.07" cy="201.25" r="1.6" fill="#000"/>
<circle cx="440.88" cy="203.44" r="1.6" fill="#000"/>
<circle cx="443.8" cy="204.9" r="1.6" fill="#000"/>
<circle cx="425.18" cy="185.92" r="1.6" fill="#0c0"/>
<circle cx="430.66" cy="186.65" r="1.6" fill="#0c0"/>
<circle cx="451.39" cy="194.12" r="1.6" fill="#000"/>
<circle cx="452.48" cy="197.04" r="1.6" fill="#000"/>
<circle cx="455.77" cy="199.6" r="1.6" fill="#000"/>
<circle cx="455.77" cy="202.88" r="1.6" fill="#000"/>
<circle cx="452.12" cy="205.07" r="1.6" fill="#000"/>
<circle cx="453.58" cy="205.8" r="1.6" fill="#000"/>
<circle cx="456.86" cy="207.26" r="1.6" fill="#000"/>
<circle cx="447.01" cy="193.39" r="1.6" fill="#000"/>
<circle cx="449.2" cy="192.66" r="1.6" fill="#000"/>
<circle cx="447.01" cy="197.04" r="1.6" fill="#000"/>
<circle cx="447.01" cy="206.9" r="1.6" fill="#000"/>
<circle cx="447.74" cy="203.25" r="1.6" fill="#000"/>
<circle cx="444.82" cy="200.33" r="1.6" fill="#000"/>
<line x1="42.8" y1="256.8" x2="62.1" y2="256.8" stroke="#666" stroke-width="1"/>
<circle cx="52.5" cy="256.8" r="1.9" fill="#000"/>
<text x="71.3" y="260.40000000000003" font-size="10.3" text-anchor="start" font-weight="normal" fill="#333">Ancestral Varieties (516)</text>
<line x1="42.8" y1="269.4" x2="62.1" y2="269.4" stroke="#f33" stroke-width="1"/>
<circle cx="52.5" cy="269.4" r="1.9" fill="#f00"/>
<text x="71.3" y="273.0" font-size="10.3" text-anchor="start" font-weight="normal" fill="#333">Harus/Houser (350)</text>
<line x1="42.8" y1="281.9" x2="62.1" y2="281.9" stroke="#4e4" stroke-width="1"/>
<circle cx="52.5" cy="281.9" r="1.9" fill="#0c0"/>
<text x="71.3" y="285.5" font-size="10.3" text-anchor="start" font-weight="normal" fill="#333">Elite Eastern SWW (154)</text>
<line x1="42.8" y1="294.5" x2="62.1" y2="294.5" stroke="#33f" stroke-width="1"/>
<circle cx="52.5" cy="294.5" r="1.9" fill="#00f"/>
<text x="71.3" y="298.1" font-size="10.3" text-anchor="start" font-weight="normal" fill="#333">Geneva/Cayuga (107)</text>
<line x1="389.4" y1="269.9" x2="408" y2="269.9" stroke="#222" stroke-width="1"/>
<circle cx="398.6" cy="269.9" r="1.9" fill="#000"/>
<text x="418.3" y="273.5" font-size="10.1" text-anchor="start" font-weight="normal" fill="#333">Tropical Japonica (127)</text>
<line x1="389.4" y1="282.4" x2="408" y2="282.4" stroke="#f77" stroke-width="1"/>
<circle cx="398.6" cy="282.4" r="1.9" fill="#f00"/>
<text x="418.3" y="286.0" font-size="10.1" text-anchor="start" font-weight="normal" fill="#333">Indica/Aus (145)</text>
<line x1="389.4" y1="294.6" x2="408" y2="294.6" stroke="#3f3" stroke-width="1"/>
<circle cx="398.6" cy="294.6" r="1.9" fill="#0c0"/>
<text x="418.3" y="298.20000000000005" font-size="10.1" text-anchor="start" font-weight="normal" fill="#333">Temperate Japonica (99)</text>
</svg></body></html>
